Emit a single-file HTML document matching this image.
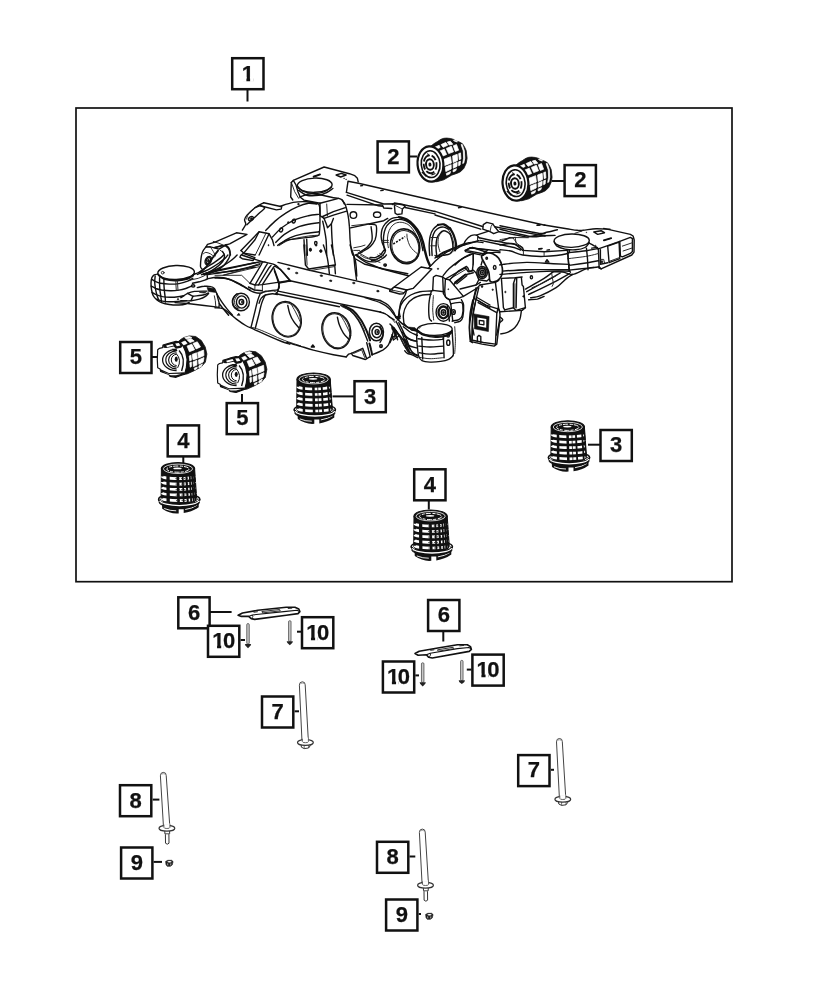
<!DOCTYPE html>
<html lang="en"><head><meta charset="utf-8"><title>Rear crossmember / cradle parts diagram</title>
<style>
html,body{margin:0;padding:0;background:#fff;}
body{width:824px;height:1000px;overflow:hidden;}
svg{display:block;will-change:transform;}
.lb{fill:#fff;stroke:#111;stroke-width:2.5;}
.lt{font-family:"Liberation Sans",sans-serif;font-weight:700;font-size:22px;fill:#111;stroke:#111;stroke-width:0.25;text-anchor:middle;}
.o{fill:none;stroke:#111;stroke-width:1.4;stroke-linejoin:round;stroke-linecap:round;}
.ow{fill:#fff;stroke:#111;stroke-width:1.4;stroke-linejoin:round;stroke-linecap:round;}
.t{fill:none;stroke:#222;stroke-width:0.95;stroke-linejoin:round;stroke-linecap:round;}
.tw{fill:#fff;stroke:#222;stroke-width:0.9;stroke-linejoin:round;}
.g{fill:#fff;stroke:#444;stroke-width:1.0;stroke-linejoin:round;stroke-linecap:round;}
.w{fill:#fff;stroke:none;}
.k{fill:#111;stroke:#111;stroke-width:0.6;stroke-linejoin:round;}
</style></head><body>
<svg width="824" height="1000" viewBox="0 0 824 1000">
<rect width="824" height="1000" fill="#fff"/>
<rect x="76" y="108" width="656" height="473.7" fill="none" stroke="#111" stroke-width="1.7"/>
<line x1="247.5" y1="90.0" x2="247.5" y2="101.5" stroke="#111" stroke-width="2.0"/>
<line x1="410.0" y1="156.5" x2="417.0" y2="156.5" stroke="#111" stroke-width="2.0"/>
<line x1="552.0" y1="181.0" x2="564.0" y2="181.0" stroke="#111" stroke-width="2.0"/>
<line x1="152.0" y1="357.0" x2="158.0" y2="357.0" stroke="#111" stroke-width="2.0"/>
<line x1="242.0" y1="394.0" x2="242.0" y2="403.0" stroke="#111" stroke-width="2.0"/>
<line x1="332.5" y1="396.4" x2="354.0" y2="396.4" stroke="#111" stroke-width="2.0"/>
<line x1="588.0" y1="444.7" x2="601.0" y2="444.7" stroke="#111" stroke-width="2.0"/>
<line x1="183.3" y1="457.0" x2="183.3" y2="464.5" stroke="#111" stroke-width="2.0"/>
<line x1="428.8" y1="501.0" x2="428.8" y2="509.5" stroke="#111" stroke-width="2.0"/>
<line x1="210.0" y1="612.0" x2="231.6" y2="612.0" stroke="#111" stroke-width="2.0"/>
<line x1="240.6" y1="640.0" x2="245.0" y2="640.0" stroke="#111" stroke-width="2.0"/>
<line x1="297.0" y1="631.7" x2="301.0" y2="631.7" stroke="#111" stroke-width="2.0"/>
<line x1="443.3" y1="632.0" x2="443.3" y2="641.5" stroke="#111" stroke-width="2.0"/>
<line x1="415.3" y1="675.4" x2="419.0" y2="675.4" stroke="#111" stroke-width="2.0"/>
<line x1="466.8" y1="669.6" x2="471.5" y2="669.6" stroke="#111" stroke-width="2.0"/>
<line x1="294.6" y1="711.3" x2="299.0" y2="711.3" stroke="#111" stroke-width="2.0"/>
<line x1="550.9" y1="769.8" x2="554.0" y2="769.8" stroke="#111" stroke-width="2.0"/>
<line x1="152.7" y1="799.6" x2="159.4" y2="799.6" stroke="#111" stroke-width="2.0"/>
<line x1="153.6" y1="861.9" x2="162.0" y2="861.9" stroke="#111" stroke-width="2.0"/>
<line x1="409.5" y1="856.5" x2="415.3" y2="856.5" stroke="#111" stroke-width="2.0"/>
<line x1="418.7" y1="914.0" x2="421.0" y2="914.0" stroke="#111" stroke-width="2.0"/>
<g id="cradle">
<path d="M158.6,273.9 L154.2,274.9 L151.8,277.8 L151.0,283.2 L151.6,290.0 L153.3,295.8 L156.7,299.7 L161.5,302.6 L169.3,304.5 L179.0,305.0 L185.8,304.0 L189.2,302.4 L192.6,287.0 L193.1,274.4Z" class="w"/>
<path d="M158.6,273.9 C157.9,274.1 155.4,274.3 154.2,274.9 C153.1,275.6 152.3,276.4 151.8,277.8 C151.3,279.2 151.1,281.1 151.0,283.2 C151.0,285.2 151.2,287.8 151.6,290.0 C152.0,292.1 152.4,294.2 153.3,295.8 C154.1,297.4 155.3,298.5 156.7,299.7 C158.0,300.8 159.4,301.8 161.5,302.6 C163.6,303.4 166.4,304.1 169.3,304.5 C172.2,304.9 176.2,305.1 179.0,305.0 C181.7,304.9 184.1,304.5 185.8,304.0 C187.5,303.6 188.6,302.7 189.2,302.4" class="o"/>
<ellipse cx="176.1" cy="272.5" rx="18.3" ry="7.0" class="ow" transform="rotate(-2 176.1 272.5)"/>
<path d="M158.2,274.4 C159.2,275.1 161.4,277.7 164.4,278.6 C167.4,279.5 172.2,280.1 176.1,280.0 C180.0,280.0 184.7,279.3 187.7,278.3 C190.7,277.3 193.1,274.7 194.1,274.0" class="o"/>
<path d="M158.4,275.2 C159.4,275.9 161.5,278.3 164.4,279.3 C167.4,280.2 172.2,280.8 176.1,280.7 C180.0,280.7 184.8,279.8 187.7,279.0 C190.6,278.1 192.6,276.1 193.5,275.6" class="o"/>
<ellipse cx="162.7" cy="272.7" rx="1.4" ry="1.3" class="t"/>
<path d="M151.8,279.3 C152.4,279.7 154.2,281.1 155.7,281.7 C157.1,282.3 158.3,282.8 160.5,283.2 C162.8,283.6 166.2,284.0 169.3,284.1 C172.3,284.2 175.9,284.1 179.0,283.6 C182.1,283.2 185.4,282.1 187.7,281.2 C190.0,280.3 191.9,278.8 192.8,278.3" class="o"/>
<path d="M151.2,286.1 C152.0,286.5 154.0,287.8 155.7,288.5 C157.4,289.1 159.1,289.6 161.5,290.0 C163.9,290.3 167.3,290.7 170.2,290.7 C173.2,290.8 176.4,290.5 179.0,290.1 C181.6,289.8 183.7,289.2 185.8,288.5 C187.9,287.8 190.6,286.5 191.6,286.1" class="o"/>
<path d="M152.0,292.4 C152.8,292.8 154.9,294.1 156.7,294.8 C158.4,295.5 160.2,296.1 162.5,296.6 C164.7,297.0 167.7,297.2 170.2,297.2 C172.8,297.3 175.7,297.0 178.0,296.7 C180.3,296.5 182.9,295.9 183.8,295.8" class="o"/>
<path d="M156.7,299.2 C157.6,299.5 160.2,300.7 162.5,301.1 C164.7,301.6 167.7,301.7 170.2,301.8 C172.8,301.8 175.3,301.6 178.0,301.4 C180.8,301.2 185.3,300.8 186.7,300.6" class="o"/>
<path d="M155.2,275.9 C155.1,276.9 154.7,280.0 154.7,282.2 C154.8,284.4 155.1,286.7 155.5,289.0 C155.9,291.2 156.6,294.0 157.1,295.8 C157.7,297.6 158.3,299.2 158.6,299.9" class="o"/>
<path d="M159.6,277.8 C159.6,278.9 159.5,281.9 159.6,284.1 C159.6,286.3 159.8,288.7 160.0,290.9 C160.3,293.2 160.8,295.9 161.0,297.7 C161.3,299.6 161.4,301.3 161.5,302.0" class="o"/>
<path d="M163.9,279.3 C163.9,280.1 163.9,282.2 163.9,284.1 C164.0,286.1 164.2,288.7 164.4,290.9 C164.6,293.2 165.0,295.9 165.2,297.7 C165.4,299.6 165.4,301.3 165.4,302.0" class="o"/>
<path d="M175.9,280.4 L175.9,284.1 L176.3,290.4" class="t"/>
<path d="M177.6,280.4 L177.6,284.1 L178.0,290.4" class="t"/>
<ellipse cx="178.0" cy="299.2" rx="0.7" ry="0.7" class="k"/>
<ellipse cx="241.0" cy="302.0" rx="8.4" ry="8.8" class="ow"/>
<path d="M237.0,293.7 C236.4,294.3 234.2,296.0 233.4,297.5 C232.6,298.9 232.2,300.8 232.4,302.4 C232.5,303.9 233.2,305.7 234.1,306.8 C235.0,307.9 237.3,308.7 238.0,309.1" class="o"/>
<path d="M238.8,294.5 C238.2,295.1 236.0,296.7 235.3,298.0 C234.6,299.3 234.4,301.0 234.5,302.4 C234.6,303.8 235.1,305.3 235.8,306.3 C236.6,307.2 238.5,307.8 239.0,308.1" class="t"/>
<ellipse cx="241.7" cy="302.0" rx="5.3" ry="6.1" class="o"/>
<ellipse cx="241.4" cy="302.0" rx="2.3" ry="2.5" class="o"/>
<ellipse cx="242.1" cy="302.0" rx="0.8" ry="1.1" class="k"/>
<path d="M237.0,315.3 L238.8,313.2 L240.1,315.3Z" class="k"/>
<path d="M215.0,278.0 C217.2,278.1 223.9,277.8 228.3,279.0 C232.8,280.2 237.7,282.9 241.7,285.0 C245.7,287.2 249.3,290.4 252.4,291.7 C255.5,293.1 258.2,293.2 260.4,293.2 C262.6,293.1 262.8,291.8 265.7,291.3 C268.6,290.8 275.7,290.2 277.7,290.0" class="o"/>
<path d="M215.0,270.8 L260.4,261.7" class="o"/>
<path d="M215.0,273.2 L235.0,270.8 L259.7,264.6" class="o"/>
<path d="M223.0,275.3 L259.1,266.7" class="t"/>
<path d="M215.0,275.3 L241.7,275.3 L250.0,283.4" class="t"/>
<path d="M250.0,283.3 L261.1,265.0 L262.5,261.9" class="o"/>
<path d="M255.0,285.0 L265.7,266.3 L267.3,263.8" class="o"/>
<path d="M258.4,285.0 L269.1,267.7 L271.1,265.4" class="o"/>
<path d="M262.4,284.6 L273.7,267.0 L275.3,265.7" class="o"/>
<path d="M250.0,283.3 L255.0,285.0 L262.4,284.6 L277.7,282.4 L290.0,280.4" class="o"/>
<path d="M248.4,287.0 L254.4,290.0 L262.4,290.8" class="o"/>
<path d="M255.0,285.0 L254.8,290.2" class="t"/>
<path d="M262.4,284.6 L262.4,291.0" class="t"/>
<path d="M241.7,255.0 C243.7,255.7 250.4,257.9 253.7,259.0 C257.1,260.1 258.3,260.5 261.7,261.4 C265.2,262.3 271.6,263.6 274.4,264.6 C277.2,265.7 276.9,266.2 278.5,267.7 C280.2,269.2 282.4,271.5 284.4,273.7 C286.4,275.8 289.4,279.5 290.4,280.6" class="o"/>
<path d="M274.4,271.0 C275.0,272.6 276.9,277.7 277.7,280.4 C278.6,283.0 279.3,285.4 279.3,287.0 C279.3,288.6 278.0,289.5 277.7,290.0" class="o"/>
<path d="M278.8,282.5 L291.1,281.3" class="t"/>
<path d="M260.4,293.4 C259.9,294.6 258.7,297.0 257.7,300.4 C256.7,303.8 255.5,309.2 254.4,313.7 C253.3,318.2 251.6,325.1 251.0,327.4" class="o"/>
<path d="M265.2,295.0 C264.6,296.4 262.7,299.9 261.7,303.1 C260.7,306.2 260.1,309.6 259.1,313.7 C258.0,317.9 255.9,325.8 255.3,328.2" class="o"/>
<path d="M259.1,303.3 C259.4,302.5 259.9,299.8 261.1,298.4 C262.2,297.0 263.8,295.8 265.7,295.0 C267.6,294.3 270.4,293.8 272.4,293.7 C274.4,293.6 276.6,294.4 277.5,294.5" class="o"/>
<path d="M260.4,293.4 C261.3,293.2 263.5,292.2 265.7,291.8 C268.0,291.4 271.7,290.7 273.7,291.0 C275.8,291.4 277.3,293.3 278.0,293.7" class="t"/>
<path d="M215.0,307.7 C216.3,307.9 220.8,307.9 223.0,308.7 C225.2,309.4 226.1,310.7 228.3,312.4 C230.6,314.1 233.5,316.9 236.4,319.1 C239.3,321.3 242.6,323.7 245.7,325.5 C248.8,327.3 251.3,328.0 255.0,329.8 C258.8,331.5 263.9,333.9 268.4,335.9 C272.8,337.9 278.2,340.1 281.7,341.5 C285.3,342.9 288.4,343.7 289.8,344.2" class="o"/>
<path d="M251.0,327.1 C252.4,327.5 255.7,328.2 259.1,329.5 C262.4,330.7 266.8,332.7 271.1,334.6 C275.3,336.4 279.5,338.6 284.4,340.4 C289.3,342.3 297.8,344.9 300.4,345.8" class="t"/>
<ellipse cx="286.7" cy="319.3" rx="14.4" ry="17.9" class="o" transform="rotate(-14 286.7 319.3)"/>
<ellipse cx="286.7" cy="319.3" rx="13.5" ry="17.0" class="t" transform="rotate(-14 286.7 319.3)"/>
<path d="M287.8,305.5 C288.1,306.8 288.8,311.0 289.8,313.7 C290.8,316.5 292.2,319.4 293.8,321.7 C295.3,324.1 298.0,326.8 298.8,327.8" class="o"/>
<path d="M291.4,304.7 C292.0,305.7 293.9,308.9 295.1,311.1 C296.3,313.2 297.4,315.6 298.4,317.7 C299.4,319.9 300.7,322.7 301.1,323.8" class="t"/>
<path d="M193.9,274.4 C194.8,274.0 197.2,273.1 199.3,272.0 C201.3,270.9 203.6,269.2 206.1,267.6 C208.5,266.1 211.4,264.4 213.8,262.8 C216.3,261.1 219.0,259.2 220.6,257.9 C222.2,256.6 223.1,255.5 223.5,255.0" class="o"/>
<path d="M197.3,274.4 C198.5,273.9 201.7,272.6 204.1,271.5 C206.6,270.4 209.5,269.0 211.9,267.6 C214.3,266.2 216.4,264.9 218.7,263.3 C221.0,261.6 223.9,259.3 225.5,257.9 C227.0,256.5 227.5,255.5 227.9,255.0" class="o"/>
<path d="M203.2,274.4 C204.9,273.8 210.8,271.8 213.8,270.5 C216.9,269.2 219.0,268.1 221.6,266.7 C224.2,265.2 227.1,263.4 229.4,261.8 C231.6,260.2 233.9,258.1 235.2,256.9 C236.5,255.8 236.8,255.3 237.1,255.0" class="o"/>
<path d="M204.1,273.9 L233.3,267.6 L255.0,262.8" class="o"/>
<path d="M208.0,274.6 L255.0,267.1" class="o"/>
<path d="M203.6,274.0 L207.0,273.4 L207.5,278.8 L206.1,279.3" class="o"/>
<path d="M207.5,278.8 C208.9,278.5 213.1,277.5 215.8,277.3 C218.4,277.2 221.0,277.3 223.5,277.8 C226.1,278.3 228.7,279.2 231.3,280.2 C233.9,281.3 236.5,282.8 239.1,284.1 C241.7,285.5 245.0,287.5 246.8,288.5 C248.7,289.5 249.7,289.7 250.2,290.0" class="o"/>
<path d="M192.5,283.3 L199.3,281.8 L206.3,279.7" class="o"/>
<path d="M189.6,280.2 L198.3,278.3 L204.1,275.9" class="t"/>
<ellipse cx="193.1" cy="285.9" rx="1.7" ry="1.1" class="o"/>
<path d="M197.3,287.6 C198.5,287.4 201.9,286.4 204.1,286.3 C206.4,286.1 209.2,286.2 210.9,286.6 C212.6,286.9 213.4,287.5 214.3,288.5 C215.2,289.5 215.8,291.5 216.3,292.4 C216.7,293.3 216.8,293.8 216.9,294.0" class="o"/>
<path d="M207.0,287.5 L213.8,288.6 L215.8,292.4 L208.5,291.5Z" class="k"/>
<path d="M180.8,297.7 C182.0,297.0 185.4,294.4 187.6,293.3 C189.9,292.3 191.2,291.8 194.4,291.4 C197.7,291.0 204.9,291.2 207.0,291.1" class="o"/>
<path d="M187.6,293.3 L193.0,296.3 L191.0,300.6" class="o"/>
<path d="M193.0,296.3 C194.8,296.0 201.6,295.4 204.1,294.8 C206.7,294.2 207.5,293.2 208.2,292.9" class="o"/>
<path d="M199.3,292.3 L206.3,291.9 L204.1,293.1Z" class="k"/>
<path d="M180.8,300.6 C182.5,300.7 187.9,301.1 191.0,300.8 C194.1,300.6 196.9,299.9 199.3,299.2 C201.6,298.5 203.5,297.7 205.1,296.7 C206.7,295.8 208.0,294.0 208.6,293.4" class="o"/>
<path d="M175.0,302.6 L187.6,303.5 L204.1,305.5 L215.8,306.9 L218.9,307.4" class="o"/>
<path d="M216.9,294.0 C217.1,294.6 217.3,296.1 217.7,297.7 C218.1,299.3 219.0,301.9 219.2,303.5 C219.4,305.2 218.9,306.8 218.9,307.4" class="o"/>
<path d="M214.3,295.8 L215.3,300.6 L215.8,306.7" class="t"/>
<path d="M216.9,294.0 C217.7,295.3 219.9,299.0 221.6,301.6 C223.3,304.2 225.6,307.1 227.4,309.4 C229.2,311.6 231.6,314.2 232.5,315.2" class="o"/>
<path d="M219.2,303.5 C220.2,304.9 223.9,309.6 225.5,311.5 C227.1,313.4 228.1,314.6 228.6,315.2" class="o"/>
<path d="M215.0,242.2 L236.4,232.8 L247.0,234.4 L229.7,243.8 L222.3,245.9 L215.0,247.5" class="o"/>
<path d="M242.4,230.1 C242.9,229.2 245.3,226.1 245.7,224.4 C246.1,222.7 244.4,221.3 244.6,219.7 C244.9,218.2 245.3,217.1 247.0,215.1 C248.8,213.1 252.3,209.8 255.0,207.7 C257.8,205.7 262.3,203.6 263.7,202.8" class="o"/>
<path d="M263.7,202.8 L281.7,206.7 L281.2,209.1 L276.4,209.9 L260.4,205.7 L255.0,207.7" class="o"/>
<path d="M260.4,205.7 C261.1,206.1 264.9,206.7 264.7,208.0 C264.4,209.3 261.5,211.0 259.1,213.3 C256.6,215.6 252.0,219.8 250.0,221.7 C247.9,223.6 247.3,224.3 246.8,224.8" class="o"/>
<path d="M255.0,208.0 C254.0,209.0 250.1,212.0 248.6,213.9 C247.2,215.7 246.9,218.2 246.5,219.1" class="t"/>
<ellipse cx="251.0" cy="218.7" rx="2.7" ry="1.9" class="o" transform="rotate(-35 251.0 218.7)"/>
<ellipse cx="251.3" cy="218.7" rx="1.3" ry="0.9" class="k" transform="rotate(-35 251.3 218.7)"/>
<path d="M265.7,230.4 C267.3,228.9 271.7,224.0 275.1,221.1 C278.4,218.2 282.0,215.5 285.8,213.1 C289.5,210.7 294.0,208.3 297.8,206.7 C301.5,205.0 305.3,203.8 308.4,203.3 C311.6,202.9 315.3,203.9 316.7,204.0" class="o"/>
<path d="M272.4,237.1 C274.0,235.5 278.0,230.6 281.7,227.7 C285.5,224.9 290.6,221.7 295.1,219.7 C299.5,217.7 304.5,216.6 308.4,215.7 C312.4,214.8 316.9,214.6 318.6,214.4" class="o"/>
<path d="M275.7,242.4 C277.2,241.1 280.7,237.0 284.4,234.4 C288.1,231.9 293.3,228.9 297.8,227.1 C302.2,225.3 307.6,224.5 311.1,223.7 C314.7,223.0 317.8,222.8 319.1,222.7" class="o"/>
<path d="M277.7,245.4 C279.7,244.1 285.5,239.8 289.8,237.9 C294.0,236.0 298.2,234.9 303.1,233.9 C308.0,232.9 316.5,232.1 319.1,231.7" class="o"/>
<path d="M279.1,245.6 C280.9,244.7 284.9,241.4 289.8,239.8 C294.7,238.2 303.6,236.8 308.4,236.0 C313.3,235.3 317.3,235.4 319.1,235.2" class="t"/>
<ellipse cx="298.4" cy="204.1" rx="0.9" ry="0.7" class="k"/>
<ellipse cx="293.8" cy="221.1" rx="1.5" ry="2.0" class="o" transform="rotate(20 293.8 221.1)"/>
<ellipse cx="288.2" cy="222.5" rx="0.7" ry="0.9" class="k"/>
<ellipse cx="281.1" cy="230.0" rx="1.5" ry="2.0" class="o" transform="rotate(20 281.1 230.0)"/>
<path d="M241.0,250.4 L259.1,231.7 L269.1,233.8 L272.4,239.8 L274.0,245.6" class="o"/>
<path d="M259.1,231.7 L255.0,239.8 L243.7,253.1" class="o"/>
<path d="M269.1,233.8 L259.1,255.0" class="o"/>
<path d="M266.0,233.1 L255.3,255.0" class="t"/>
<path d="M241.0,250.4 L243.7,253.1 L255.0,255.0" class="o"/>
<ellipse cx="268.5" cy="245.2" rx="0.5" ry="0.7" class="k"/>
<path d="M215.0,247.5 C216.3,247.1 220.8,245.2 223.0,245.4 C225.2,245.5 227.1,246.8 228.3,248.4 C229.6,250.0 230.1,253.9 230.5,255.0" class="o"/>
<path d="M220.3,250.4 C220.8,250.8 222.6,251.7 223.3,252.4 C224.0,253.2 224.4,254.6 224.6,255.0" class="t"/>
<path d="M346.4,192.4 L348.0,181.3 L358.4,183.2 L435.0,200.8" class="o"/>
<path d="M346.4,192.4 L383.7,204.0 L397.1,203.7 L403.8,205.0" class="o"/>
<path d="M347.0,195.2 L378.4,205.8 L382.7,206.4" class="o"/>
<path d="M405.1,207.5 L435.0,213.9" class="o"/>
<path d="M360.8,185.8 L362.6,185.6" class="o"/>
<path d="M380.8,190.6 L383.2,190.2" class="o"/>
<path d="M392.4,204.5 L394.4,203.0 L403.1,204.5 L405.1,206.4 L402.4,209.1 L401.9,213.9 L397.1,214.5 L395.1,213.1 L394.4,205.0" class="o"/>
<path d="M394.4,205.0 L402.4,209.1" class="t"/>
<path d="M347.0,204.4 L382.4,205.0 L383.7,208.0 L391.7,208.5" class="o"/>
<path d="M350.6,227.9 L383.7,220.7 L387.7,218.4" class="o"/>
<path d="M351.7,225.7 L369.1,223.7" class="t"/>
<ellipse cx="353.4" cy="215.1" rx="3.3" ry="3.3" class="o"/>
<ellipse cx="377.1" cy="214.7" rx="3.6" ry="2.7" class="o"/>
<path d="M369.1,224.4 C370.2,224.5 374.5,223.8 375.7,225.1 C377.0,226.3 376.6,229.3 376.5,231.7 C376.4,234.2 376.1,237.3 375.1,239.8 C374.0,242.2 372.5,244.4 370.4,246.4 C368.3,248.4 364.8,250.3 362.4,251.8 C359.9,253.2 356.8,254.4 355.7,255.0" class="o"/>
<path d="M371.1,226.7 C371.2,228.9 372.8,236.2 372.0,239.8 C371.2,243.3 368.4,245.7 366.4,247.8 C364.3,249.8 360.8,251.3 359.7,252.0" class="o"/>
<path d="M353.7,247.8 L361.0,246.4 L365.0,245.1" class="t"/>
<path d="M353.7,250.4 L359.7,250.4" class="t"/>
<path d="M435.0,200.8 L545.0,225.2" class="o"/>
<path d="M435.0,211.3 L482.5,226.5" class="o"/>
<path d="M435.0,215.0 L480.7,229.2" class="o"/>
<path d="M458.5,207.7 L461.2,207.3" class="o"/>
<path d="M537.3,225.3 L539.9,224.9" class="o"/>
<path d="M539.1,248.8 L542.1,248.4" class="o"/>
<path d="M482.8,229.1 L483.3,224.7 L486.8,222.4 L492.7,223.9 L494.8,226.8 L498.8,231.7 L493.7,233.7 L490.0,231.7Z" class="o"/>
<path d="M490.0,231.7 L491.1,226.4 L492.7,223.9" class="t"/>
<path d="M494.8,226.8 L545.0,236.1" class="o"/>
<path d="M499.1,231.7 L527.1,237.1 L545.0,233.5" class="o"/>
<path d="M509.8,237.5 L528.4,237.7" class="t"/>
<path d="M479.1,237.7 C481.7,238.3 489.1,240.0 495.1,241.1 C501.1,242.2 510.6,243.4 515.1,244.4 C519.5,245.4 520.4,246.2 521.8,247.1 C523.2,248.0 523.1,249.5 523.4,250.0" class="o"/>
<path d="M480.4,240.4 L496.4,243.8 L515.1,247.8 L520.7,250.0" class="o"/>
<path d="M515.1,237.2 L516.4,244.7" class="t"/>
<path d="M509.8,237.7 L501.7,241.1 L495.1,241.1" class="o"/>
<path d="M455.0,249.8 C456.1,249.1 459.5,246.8 461.7,245.8 C463.9,244.8 465.5,244.6 468.4,243.8 C471.3,242.9 477.3,241.0 479.1,240.4" class="o"/>
<path d="M479.1,237.7 C478.6,237.3 477.7,235.4 476.4,235.1 C475.0,234.7 472.8,234.9 471.0,235.7 C469.3,236.6 466.9,238.9 465.7,240.4 C464.5,241.9 464.0,244.0 463.7,244.7" class="o"/>
<path d="M476.4,235.1 L488.7,231.1" class="o"/>
<path d="M477.5,236.7 L477.5,241.5" class="t"/>
<path d="M470.0,247.8 C473.0,248.1 483.4,249.2 488.4,249.8 C493.4,250.3 498.1,250.9 500.0,251.1" class="o"/>
<path d="M483.1,253.8 C485.1,253.5 492.2,252.6 495.1,252.4 C497.9,252.2 499.2,252.5 500.0,252.6" class="o"/>
<path d="M465.7,250.4 L470.0,247.8 L487.7,250.0 L483.1,253.8Z" class="o"/>
<path d="M483.1,253.8 L482.4,260.4 L481.1,265.0" class="o"/>
<path d="M473.0,252.4 L473.0,265.0" class="t"/>
<ellipse cx="486.4" cy="258.6" rx="1.6" ry="1.9" class="o"/>
<ellipse cx="486.4" cy="258.6" rx="0.7" ry="0.9" class="k"/>
<path d="M488.4,255.1 C489.5,255.6 493.1,256.4 495.1,258.0 C497.1,259.7 499.5,263.8 500.4,265.0" class="o"/>
<path d="M435.0,258.0 C436.3,257.1 439.7,254.1 443.0,252.4 C446.3,250.7 451.2,249.1 455.0,247.8 C458.9,246.4 464.1,245.0 466.0,244.4" class="o"/>
<path d="M455.0,265.0 C456.1,264.0 459.2,260.7 461.7,259.1 C464.2,257.5 468.6,255.8 470.0,255.1" class="o"/>
<path d="M603.7,228.4 L630.4,234.4 L633.1,236.0 L634.2,240.0 L634.0,252.1 L631.8,255.0 L601.1,268.9 L598.7,267.8" class="o"/>
<path d="M619.8,241.4 L630.4,237.4 L632.4,238.7 L632.4,251.4 L630.4,253.4 L622.4,256.9 L620.4,256.1 L619.8,241.4" class="o"/>
<path d="M622.4,246.1 L632.4,242.7" class="t"/>
<path d="M623.1,251.0 L631.8,248.1" class="t"/>
<path d="M591.7,248.1 L597.1,247.4 L598.4,248.9 L619.8,241.4" class="o"/>
<path d="M598.4,248.9 L599.1,266.7 L601.1,268.9" class="o"/>
<path d="M607.7,246.1 L619.1,242.1 L619.8,258.7 L609.1,262.7Z" class="o"/>
<path d="M609.1,261.4 L619.1,257.7" class="t"/>
<path d="M600.4,249.7 L600.4,264.3 L607.7,262.7" class="o"/>
<path d="M600.4,259.4 L603.7,259.4 L604.5,262.7" class="t"/>
<ellipse cx="601.9" cy="261.8" rx="0.9" ry="1.2" class="k"/>
<ellipse cx="571.7" cy="240.7" rx="17.6" ry="6.7" class="ow" transform="rotate(-1 571.7 240.7)"/>
<path d="M554.1,241.7 C554.6,242.4 555.2,244.9 557.0,246.2 C558.8,247.4 561.9,248.5 565.0,249.1 C568.1,249.7 572.4,250.1 575.7,249.8 C579.0,249.5 582.8,248.7 585.0,247.5 C587.3,246.3 588.6,243.5 589.3,242.7" class="o"/>
<ellipse cx="586.4" cy="232.4" rx="0.4" ry="0.3" class="k"/>
<ellipse cx="581.0" cy="231.1" rx="0.4" ry="0.3" class="k"/>
<ellipse cx="595.7" cy="245.4" rx="0.4" ry="0.3" class="k"/>
<ellipse cx="614.4" cy="243.4" rx="0.4" ry="0.3" class="k"/>
<path d="M593.7,232.0 L601.1,230.7 L604.5,232.7 L597.7,234.4Z" class="o"/>
<path d="M603.7,240.2 L611.2,238.0" class="o"/>
<path d="M604.0,240.6 L611.3,238.4" class="o"/>
<path d="M567.7,249.7 C567.8,251.4 568.1,256.8 568.4,260.1 C568.6,263.4 568.7,267.4 569.0,269.4 C569.4,271.4 570.1,271.8 570.4,272.2" class="o"/>
<path d="M586.4,248.1 C586.6,249.8 587.2,255.1 587.5,258.7 C587.7,262.3 587.9,267.9 588.0,269.7" class="o"/>
<path d="M567.7,252.7 C570.8,252.4 581.5,251.4 586.4,250.7 C591.3,250.1 595.3,249.1 597.1,248.7" class="o"/>
<path d="M567.7,258.7 C571.0,258.3 582.6,257.0 587.7,256.1 C592.9,255.2 596.8,253.8 598.7,253.4" class="t"/>
<path d="M569.0,265.4 C572.1,265.0 582.8,263.5 587.7,262.7 C592.7,262.0 596.8,261.1 598.7,260.7" class="o"/>
<path d="M569.0,270.1 C572.1,269.8 582.7,268.6 587.7,268.1 C592.7,267.5 597.1,267.0 598.9,266.7" class="o"/>
<path d="M589.1,243.0 C590.2,243.6 594.3,245.7 595.7,246.7 C597.2,247.7 597.5,248.5 597.9,248.9" class="o"/>
<path d="M278.0,262.4 L307.4,269.7 L336.7,276.4 L380.0,286.4 L392.4,290.0" class="o"/>
<path d="M290.0,280.8 L380.0,300.5" class="o"/>
<path d="M278.0,291.1 L380.0,312.0" class="o"/>
<path d="M276.0,293.7 L339.4,306.7" class="o"/>
<path d="M275.3,266.4 L280.7,269.7 L290.0,280.8" class="o"/>
<path d="M274.0,268.4 L279.3,283.0 L278.0,291.1 L276.0,293.7" class="o"/>
<path d="M279.3,283.0 L290.0,280.8" class="o"/>
<ellipse cx="288.7" cy="268.8" rx="1.3" ry="0.8" class="k" transform="rotate(8 288.7 268.8)"/>
<ellipse cx="296.7" cy="273.0" rx="1.3" ry="0.8" class="k" transform="rotate(8 296.7 273.0)"/>
<ellipse cx="321.4" cy="275.7" rx="1.3" ry="0.8" class="k" transform="rotate(8 321.4 275.7)"/>
<ellipse cx="330.7" cy="280.8" rx="1.3" ry="0.8" class="k" transform="rotate(8 330.7 280.8)"/>
<ellipse cx="353.8" cy="283.0" rx="1.3" ry="0.8" class="k" transform="rotate(8 353.8 283.0)"/>
<ellipse cx="377.9" cy="291.1" rx="1.3" ry="0.8" class="k" transform="rotate(8 377.9 291.1)"/>
<path d="M304.0,245.0 L305.4,265.0 L308.7,269.0 L334.7,265.0 L335.4,273.8" class="o"/>
<path d="M310.0,270.6 L334.3,266.6" class="t"/>
<path d="M306.0,245.0 L307.1,265.0" class="t"/>
<ellipse cx="310.4" cy="250.1" rx="1.1" ry="1.3" class="k"/>
<ellipse cx="321.0" cy="251.0" rx="1.1" ry="1.3" class="k"/>
<ellipse cx="316.1" cy="245.3" rx="0.9" ry="0.9" class="k"/>
<path d="M323.4,245.0 C324.1,247.2 326.4,253.5 327.4,258.3 C328.4,263.2 329.1,271.3 329.4,273.8" class="o"/>
<path d="M331.4,245.0 C331.8,246.8 333.1,252.3 333.8,255.7 C334.5,259.0 335.1,263.5 335.4,265.0" class="o"/>
<path d="M350.1,245.0 C351.0,247.7 354.3,255.9 355.4,261.0 C356.5,266.2 356.5,273.5 356.8,276.0" class="o"/>
<path d="M355.4,255.0 C357.2,256.2 362.0,260.2 366.1,262.4 C370.2,264.5 377.7,267.0 380.0,268.0" class="o"/>
<path d="M358.1,252.3 C359.9,253.3 365.1,256.7 368.8,258.3 C372.4,260.0 378.1,261.7 380.0,262.4" class="t"/>
<ellipse cx="336.3" cy="330.7" rx="14.2" ry="18.2" class="o" transform="rotate(-14 336.3 330.7)"/>
<ellipse cx="336.3" cy="330.7" rx="13.2" ry="17.2" class="t" transform="rotate(-14 336.3 330.7)"/>
<path d="M337.4,317.1 C337.7,318.4 338.4,322.4 339.4,325.1 C340.4,327.8 341.9,330.8 343.4,333.1 C344.9,335.4 347.6,338.0 348.5,339.0" class="o"/>
<path d="M341.0,316.0 C341.6,317.1 343.6,320.2 344.8,322.4 C345.9,324.6 347.1,327.0 348.1,329.1 C349.1,331.2 350.3,334.2 350.8,335.2" class="t"/>
<path d="M340.8,305.3 C342.3,306.2 347.2,308.0 350.1,310.4 C353.0,312.8 355.9,316.4 358.1,319.8 C360.3,323.1 361.8,326.9 363.4,330.4 C365.0,334.0 367.0,339.3 367.7,341.1" class="o"/>
<path d="M343.2,305.3 C344.8,306.2 349.8,308.0 352.8,310.4 C355.7,312.8 358.5,316.4 360.8,319.8 C363.0,323.1 364.8,327.0 366.4,330.4 C367.9,333.9 369.5,338.8 370.1,340.4" fill="none" stroke="#111" stroke-width="2.0" stroke-linecap="round"/>
<path d="M342.1,306.7 C343.6,307.5 348.6,309.5 351.4,311.7 C354.3,314.0 357.0,317.2 359.2,320.4 C361.4,323.7 363.6,329.3 364.5,331.1" class="t"/>
<path d="M365.0,297.7 C367.7,298.6 377.1,301.3 381.1,303.1 C385.1,304.8 386.9,306.4 389.1,308.4 C391.3,310.4 392.9,313.5 394.4,315.1 C395.9,316.7 397.5,317.5 398.2,318.0" class="o"/>
<ellipse cx="376.4" cy="332.0" rx="7.1" ry="8.8" class="ow"/>
<path d="M372.0,324.7 C371.6,325.3 370.3,326.9 369.9,328.4 C369.5,329.9 369.3,332.2 369.6,333.8 C369.9,335.4 370.7,337.0 371.5,338.0 C372.3,339.1 373.9,339.8 374.4,340.2" class="t"/>
<ellipse cx="376.8" cy="332.0" rx="4.8" ry="5.7" class="o"/>
<ellipse cx="377.1" cy="332.0" rx="2.0" ry="2.4" class="o"/>
<ellipse cx="377.5" cy="332.0" rx="0.8" ry="1.1" class="k"/>
<path d="M389.7,290.4 L394.4,287.0 L406.7,290.0 L403.1,293.7 L399.8,294.0 L389.7,291.3Z" class="o"/>
<path d="M391.7,290.0 L403.8,292.6" class="t"/>
<path d="M393.1,287.8 L421.1,267.0 L431.8,269.0 L413.1,288.4 L406.7,290.0" class="o"/>
<path d="M353.7,255.0 C353.9,257.2 354.6,264.2 355.0,268.3 C355.5,272.5 356.3,277.9 356.5,279.8" class="o"/>
<path d="M355.7,259.0 L365.0,264.3 L383.7,269.0 L407.8,273.7" class="o"/>
<path d="M357.0,255.0 C358.4,255.9 361.9,259.2 365.0,260.3 C368.2,261.5 372.6,262.1 375.7,261.7 C378.8,261.2 382.0,258.8 383.7,257.7 C385.5,256.6 386.0,255.4 386.4,255.0" class="o"/>
<path d="M360.4,255.0 C361.4,255.6 363.8,257.6 366.4,258.3 C368.9,259.0 373.2,259.6 375.7,259.3 C378.3,258.9 380.7,256.8 381.7,256.3" class="t"/>
<path d="M394.4,255.0 C395.3,255.9 397.5,259.1 399.8,260.3 C402.0,261.6 405.1,262.6 407.8,262.3 C410.4,262.1 414.0,260.2 415.8,259.0 C417.6,257.8 418.0,255.7 418.4,255.0" class="o"/>
<ellipse cx="385.1" cy="265.1" rx="1.3" ry="1.1" class="o"/>
<ellipse cx="385.3" cy="265.4" rx="0.5" ry="0.5" class="k"/>
<path d="M406.7,290.0 C406.4,290.8 406.0,293.1 405.1,295.0 C404.2,297.0 402.0,299.5 401.1,301.7 C400.2,303.9 400.2,305.7 399.8,308.4 C399.3,311.1 398.4,316.4 398.2,318.0" class="o"/>
<path d="M380.0,268.3 L394.7,272.3 L408.3,275.7" class="o"/>
<path d="M380.0,300.4 C381.3,301.2 385.8,303.2 388.0,305.0 C390.2,306.9 392.0,309.6 393.3,311.7 C394.7,313.8 395.1,316.6 396.0,317.7 C396.9,318.8 398.0,318.6 398.7,318.4 C399.4,318.2 399.8,316.7 400.0,316.4" class="o"/>
<path d="M380.0,311.7 C380.9,312.1 383.4,312.6 385.3,313.7 C387.2,314.8 389.7,316.9 391.3,318.4 C392.9,319.9 394.4,322.0 395.0,322.7" class="t"/>
<path d="M400.0,316.4 C399.9,315.2 398.8,311.6 399.4,309.1 C399.9,306.5 401.5,303.4 403.4,301.0 C405.3,298.7 407.9,296.6 410.7,295.0 C413.5,293.5 416.7,292.4 420.0,291.7 C423.4,291.0 428.5,291.3 430.7,291.0 C433.0,290.8 433.0,290.5 433.4,290.4" class="o"/>
<path d="M404.0,323.7 C403.9,322.2 402.9,317.5 403.4,314.4 C403.8,311.3 405.0,307.7 406.7,305.0 C408.4,302.4 410.7,300.0 413.4,298.4 C416.0,296.7 419.8,295.7 422.7,295.0 C425.7,294.4 429.6,294.5 431.0,294.4" class="o"/>
<path d="M404.0,323.7 C404.7,324.4 406.7,326.9 408.0,327.7 C409.4,328.6 411.4,328.9 412.0,329.1" class="o"/>
<path d="M432.7,290.4 L433.4,277.0 L436.1,275.4 L442.7,277.0 L445.4,279.0 L444.7,291.7 L445.4,297.0 L449.4,299.7 L460.1,297.7 L463.4,296.4 L449.4,279.7 L445.4,279.0" class="o"/>
<path d="M442.7,277.0 L443.4,293.7 L446.7,298.4 L449.4,299.7" class="o"/>
<path d="M432.7,290.4 L444.1,291.7" class="o"/>
<path d="M431.4,291.0 C431.1,292.5 429.8,296.7 429.4,299.7 C428.9,302.7 428.7,305.9 428.7,309.1 C428.7,312.2 428.9,316.4 429.4,318.4 C429.9,320.4 431.2,320.6 431.5,321.1" class="o"/>
<path d="M433.4,295.7 C433.3,297.9 432.7,305.0 432.7,309.1 C432.8,313.1 433.5,318.2 433.7,320.0" class="t"/>
<ellipse cx="448.3" cy="289.2" rx="0.5" ry="0.5" class="k"/>
<path d="M449.4,299.7 L450.8,304.0" class="o"/>
<ellipse cx="443.4" cy="312.4" rx="7.3" ry="8.8" class="ow"/>
<ellipse cx="443.4" cy="312.4" rx="4.9" ry="5.9" fill="none" stroke="#111" stroke-width="2.3"/>
<ellipse cx="443.5" cy="312.5" rx="2.3" ry="2.7" class="o"/>
<ellipse cx="443.5" cy="312.5" rx="1.1" ry="1.3" class="k"/>
<path d="M447.4,305.0 L449.4,321.1" class="o"/>
<path d="M450.8,304.0 L452.8,321.1" class="o"/>
<ellipse cx="453.4" cy="312.0" rx="1.9" ry="2.4" class="o"/>
<ellipse cx="453.6" cy="312.0" rx="0.8" ry="1.1" class="k"/>
<path d="M450.8,303.7 C452.3,303.5 458.1,302.2 460.1,302.4 C462.1,302.6 462.4,302.8 462.8,305.0 C463.1,307.3 462.9,313.3 462.2,315.7 C461.6,318.2 460.5,318.8 458.8,319.7 C457.1,320.6 453.2,320.8 452.1,321.1" class="o"/>
<path d="M461.4,299.7 C461.8,300.6 463.3,302.2 463.6,305.0 C463.8,307.9 463.3,314.4 462.8,317.1 C462.2,319.7 461.4,320.1 460.1,321.1 C458.8,322.0 455.6,322.4 454.8,322.7" class="o"/>
<path d="M400.0,316.4 C399.6,316.7 396.7,317.0 397.4,318.4 C398.0,319.8 401.6,323.3 404.0,325.1 C406.5,326.9 409.8,328.1 412.0,329.1 C414.3,330.0 416.5,330.4 417.4,330.7" class="o"/>
<path d="M392.0,327.7 L394.7,331.7 L397.6,339.8" class="o"/>
<path d="M393.3,327.7 L398.7,334.4 L404.0,345.1 L408.3,352.0" class="o"/>
<path d="M408.7,327.1 L415.0,327.7 L417.4,331.7 L410.7,329.9Z" class="k"/>
<path d="M404.0,335.8 C405.1,336.4 408.4,338.8 410.7,339.8 C413.0,340.7 416.5,341.1 417.6,341.4" class="o"/>
<path d="M405.4,339.8 C406.0,341.1 408.0,345.5 409.4,347.8 C410.7,350.0 412.0,351.9 413.4,353.1 C414.8,354.4 416.9,354.9 417.6,355.2" class="o"/>
<path d="M400.0,337.1 C400.7,338.4 402.6,342.4 404.0,345.1 C405.5,347.8 407.9,351.8 408.7,353.1" class="t"/>
<path d="M380.0,326.4 C380.4,327.3 382.2,330.0 382.7,331.7 C383.1,333.5 383.1,335.3 382.7,337.1 C382.2,338.9 380.4,341.5 380.0,342.4" class="o"/>
<path d="M476.1,287.7 C475.7,289.7 474.3,295.0 473.4,299.7 C472.6,304.4 471.4,311.1 470.8,315.7 C470.1,320.4 469.4,323.7 469.4,327.7 C469.4,331.7 470.3,337.3 470.8,339.8 C471.3,342.2 472.1,342.2 472.4,342.7" class="o"/>
<path d="M478.8,287.7 C478.2,290.1 476.5,297.3 475.4,302.4 C474.4,307.5 473.3,312.2 472.8,318.4 C472.2,324.6 472.2,336.2 472.1,339.8" class="o"/>
<path d="M460.1,289.0 L476.1,285.0 L480.4,282.4" class="o"/>
<path d="M463.4,296.4 L476.4,288.5" class="o"/>
<path d="M445.4,279.0 L465.4,267.7 L468.1,271.7 L473.4,270.3 L476.1,273.0 L478.8,279.7 L476.1,285.0" class="o"/>
<path d="M454.8,282.4 L465.4,274.3" class="o"/>
<path d="M456.8,283.7 L466.8,275.7" class="o"/>
<path d="M450.8,278.3 L466.1,269.3" class="t"/>
<ellipse cx="482.1" cy="272.5" rx="5.3" ry="6.1" class="ow"/>
<ellipse cx="482.1" cy="272.5" rx="3.7" ry="4.4" fill="none" stroke="#111" stroke-width="2.1"/>
<ellipse cx="482.3" cy="272.6" rx="1.9" ry="2.3" class="o"/>
<ellipse cx="482.3" cy="272.6" rx="0.8" ry="1.1" class="k"/>
<path d="M478.8,279.7 L486.8,281.0 L490.0,278.3" class="o"/>
<path d="M476.1,297.0 L490.0,305.0" class="o"/>
<path d="M478.8,301.0 L490.0,308.0" class="o"/>
<ellipse cx="482.1" cy="286.4" rx="0.7" ry="0.8" class="k"/>
<path d="M482.0,255.7 C482.9,254.8 485.6,253.3 487.4,253.0 C489.1,252.7 490.8,252.8 492.7,253.7 C494.6,254.6 497.1,256.2 498.7,258.3 C500.3,260.5 501.5,263.7 502.0,266.4 C502.6,269.0 502.6,272.1 502.0,274.4 C501.5,276.6 499.9,278.5 498.7,279.7 C497.5,280.9 496.1,281.5 494.7,281.7 C493.3,281.9 491.0,282.7 490.0,281.0 C489.0,279.4 489.6,274.6 488.7,271.7 C487.8,268.8 485.8,265.9 484.7,263.7 C483.6,261.5 482.5,259.7 482.0,258.3 C481.6,257.0 481.1,256.6 482.0,255.7Z" fill="#fff" stroke="#111" stroke-width="1.7"/>
<ellipse cx="486.7" cy="258.3" rx="0.8" ry="1.1" class="o"/>
<ellipse cx="494.7" cy="267.4" rx="1.3" ry="1.9" class="o"/>
<path d="M480.0,285.0 L495.4,282.4 L498.7,280.4" class="o"/>
<path d="M480.0,285.0 C479.5,285.7 477.7,286.8 476.7,289.1 C475.7,291.3 474.8,295.1 474.0,298.4 C473.2,301.7 472.7,305.5 472.0,309.1 C471.3,312.6 470.3,318.0 470.0,319.8" class="o"/>
<path d="M495.4,282.4 L498.7,309.1 L500.0,311.7" class="o"/>
<path d="M501.4,278.4 L503.4,307.7 L504.7,309.9" class="o"/>
<path d="M501.4,278.4 L515.4,277.7 L522.1,277.0" class="o"/>
<path d="M515.4,277.7 L513.4,283.7 L513.4,307.7 L504.7,309.9" class="o"/>
<path d="M516.7,278.4 L516.1,307.7" class="o"/>
<path d="M521.4,277.7 L522.1,285.0 L523.4,286.4 L525.4,307.7 L516.1,310.4 L513.4,307.7" class="o"/>
<path d="M514.9,283.7 L514.9,307.7" class="t"/>
<ellipse cx="482.0" cy="286.7" rx="0.7" ry="0.8" class="k"/>
<ellipse cx="492.7" cy="289.7" rx="0.7" ry="0.8" class="k"/>
<ellipse cx="505.4" cy="292.0" rx="0.7" ry="0.8" class="k"/>
<ellipse cx="523.4" cy="296.4" rx="0.7" ry="0.8" class="k"/>
<ellipse cx="531.4" cy="277.3" rx="1.1" ry="1.6" class="o"/>
<path d="M474.0,298.4 L486.0,305.1 L498.7,309.1" class="o"/>
<path d="M498.7,309.1 C498.9,310.0 500.0,311.7 500.0,314.4 C500.0,317.1 499.3,321.7 498.7,325.1 C498.1,328.5 497.0,333.3 496.7,335.0" class="o"/>
<path d="M500.0,311.7 L522.1,310.4 L525.4,307.7" class="o"/>
<path d="M521.4,310.7 C521.1,312.2 520.8,316.9 519.7,319.8 C518.5,322.6 516.8,325.7 514.7,327.8 C512.7,329.9 509.7,331.4 507.4,332.4 C505.0,333.5 501.8,333.7 500.7,333.9" class="o"/>
<path d="M500.0,317.1 C500.5,317.5 502.8,318.9 502.8,319.8 C502.8,320.6 500.5,322.0 500.0,322.4" class="o"/>
<path d="M474.0,313.9 L489.1,316.6 L488.4,331.5 L474.4,328.8Z" class="k"/>
<path d="M477.3,317.6 L486.3,319.0 L486.2,327.8 L477.5,325.9Z" fill="#fff"/>
<path d="M479.3,320.3 L483.9,321.0 L483.9,324.8 L479.3,324.2Z" fill="#fff" stroke="#111" stroke-width="1.3" stroke-linejoin="round"/>
<path d="M472.7,327.8 L474.0,335.0" class="o"/>
<path d="M500.0,229.3 C502.7,229.9 510.7,232.0 516.0,233.3 C521.4,234.5 527.4,236.3 532.0,236.7 C536.7,237.1 540.2,235.9 544.1,235.7 C547.9,235.5 553.2,235.5 555.0,235.4" class="o"/>
<path d="M500.0,225.7 C503.3,226.3 513.6,228.4 520.0,229.7 C526.5,230.9 534.3,232.8 538.7,233.3 C543.2,233.7 543.6,232.9 546.7,232.3 C549.8,231.7 555.6,230.1 557.4,229.7" class="o"/>
<path d="M544.1,225.0 C547.8,225.6 561.2,227.8 566.7,228.7 C572.3,229.6 574.8,230.1 577.4,230.3 C580.1,230.6 579.7,230.6 582.8,230.3 C585.9,230.1 591.6,228.9 596.1,228.7 C600.7,228.6 607.7,229.2 610.0,229.3" class="o"/>
<path d="M574.8,233.3 L582.8,230.6" class="t"/>
<path d="M500.0,249.7 C501.8,249.9 506.9,250.1 510.7,251.0 C514.5,251.9 517.1,254.1 522.7,255.0 C528.3,255.9 536.7,256.6 544.1,256.4 C551.4,256.1 562.5,254.7 566.7,253.7 C571.0,252.7 569.0,250.9 569.4,250.4" class="o"/>
<path d="M500.0,265.0 C500.4,264.9 498.2,264.8 502.7,264.4 C507.1,263.9 518.2,262.5 526.7,262.4 C535.2,262.3 546.3,263.4 553.4,263.7 C560.5,264.0 566.7,264.3 569.4,264.4" class="o"/>
<path d="M502.7,271.1 C506.7,270.8 518.7,269.9 526.7,269.7 C534.7,269.5 543.6,269.7 550.7,269.7 C557.8,269.7 566.3,269.7 569.4,269.7" class="o"/>
<path d="M500.0,274.4 C504.4,274.1 517.8,272.9 526.7,272.4 C535.6,271.8 546.3,271.3 553.4,271.1 C560.5,270.9 566.7,271.2 569.4,271.2" class="o"/>
<path d="M522.7,250.4 L544.1,251.7 L566.7,250.4" class="o"/>
<path d="M523.4,250.4 L523.4,255.0" class="t"/>
<path d="M544.1,251.7 L544.1,256.4" class="t"/>
<path d="M500.0,245.0 C502.2,244.8 509.6,242.8 513.3,243.7 C517.1,244.6 521.1,249.3 522.7,250.4" class="o"/>
<path d="M513.3,238.3 C514.0,239.2 516.0,242.3 517.4,243.7 C518.7,245.1 520.9,246.1 521.6,246.6" class="t"/>
<path d="M500.0,239.7 C501.3,239.5 505.8,238.6 508.0,238.3 C510.2,238.1 512.5,238.3 513.3,238.3" class="t"/>
<path d="M545.4,262.1 L547.0,259.7 L548.9,262.1Z" class="o"/>
<path d="M538.7,249.0 L541.7,248.8" class="o"/>
<path d="M547.0,250.1 L549.4,249.8" class="o"/>
<path d="M537.1,225.3 L540.0,225.0" class="o"/>
<path d="M567.4,250.4 C567.6,252.8 568.4,261.6 568.8,265.0 C569.1,268.5 569.5,270.1 569.7,271.1" class="o"/>
<path d="M525.4,289.1 C528.5,287.3 539.4,281.3 544.1,278.4 C548.7,275.5 551.8,272.8 553.4,271.7" class="o"/>
<path d="M526.7,291.7 C530.7,289.5 545.2,281.5 550.7,278.4 C556.3,275.3 558.5,273.9 560.1,273.1" class="o"/>
<path d="M528.7,294.4 C530.6,293.5 535.5,291.3 540.0,289.1 C544.6,286.9 551.2,283.6 556.1,281.1 C561.0,278.5 567.2,274.9 569.4,273.7" class="o"/>
<path d="M530.7,297.8 C532.3,297.4 535.8,297.4 540.0,295.8 C544.3,294.1 551.6,290.6 556.1,287.7 C560.5,284.9 564.0,280.6 566.7,278.4 C569.5,276.2 571.8,275.1 572.8,274.4" class="o"/>
<path d="M528.7,299.8 C530.1,299.6 534.8,299.6 537.4,299.1 C539.9,298.5 542.9,296.9 544.1,296.4" class="o"/>
<path d="M551.4,271.7 L553.4,283.7 L552.1,286.4" class="t"/>
<path d="M532.0,287.7 C534.0,286.9 540.0,284.4 544.1,282.4 C548.1,280.4 554.1,276.8 556.1,275.7" class="t"/>
<path d="M553.4,271.7 C555.0,271.8 559.5,271.5 562.7,272.0 C566.0,272.4 569.0,274.9 572.8,274.4 C576.5,273.9 582.0,270.2 585.4,269.1 C588.9,267.9 592.1,267.7 593.4,267.5" class="o"/>
<path d="M300.0,346.1 C302.2,346.7 307.8,348.6 313.3,350.1 C318.9,351.5 327.9,353.6 333.4,354.7 C338.8,355.9 343.9,356.5 346.1,356.9" class="o"/>
<path d="M346.1,356.9 L348.7,354.1 L351.4,353.4" class="o"/>
<path d="M351.4,353.4 L362.7,348.3 L366.7,358.7" class="o"/>
<path d="M353.7,353.4 L361.7,349.9 L364.6,357.4" class="t"/>
<path d="M351.4,353.4 L352.7,355.5 L365.4,359.5 L369.7,356.9" class="o"/>
<path d="M366.7,342.7 C367.2,344.5 368.8,351.0 369.4,353.4 C370.0,355.8 370.1,356.3 370.2,356.9" class="o"/>
<path d="M369.4,343.4 C369.7,344.4 370.6,347.5 371.0,349.4 C371.5,351.3 371.9,353.8 372.1,354.7" fill="none" stroke="#111" stroke-width="2.0" stroke-linecap="round"/>
<path d="M372.1,354.7 C373.9,354.0 380.1,351.6 382.8,350.1 C385.4,348.5 386.8,347.3 388.1,345.4 C389.4,343.5 389.9,341.2 390.8,338.7 C391.7,336.3 393.2,332.7 393.4,330.7 C393.7,328.7 392.3,327.4 392.1,326.7" class="o"/>
<path d="M311.3,347.0 L312.8,344.9 L314.4,347.0Z" class="o"/>
<ellipse cx="381.0" cy="346.1" rx="1.3" ry="1.5" class="o"/>
<ellipse cx="381.0" cy="346.1" rx="0.5" ry="0.7" class="k"/>
<path d="M396.1,321.4 C397.0,323.1 399.7,328.0 401.5,332.0 C403.2,336.0 405.4,341.8 406.8,345.4 C408.2,348.9 409.5,352.1 410.0,353.4" class="o"/>
<path d="M398.8,322.7 C399.7,324.5 402.5,329.6 404.1,333.4 C405.8,337.2 407.8,342.7 408.8,345.4 C409.8,348.1 410.0,348.9 410.3,349.7" class="o"/>
<path d="M392.1,326.7 L396.1,330.7 L398.8,336.0 L393.4,340.0 L392.1,334.7" class="o"/>
<path d="M393.4,328.7 L396.8,333.4 L394.8,338.0Z" class="k"/>
<path d="M417.4,330.0 L416.7,337.4 L417.4,346.7 L418.7,356.1 L422.0,360.7 L430.0,362.1 L440.7,361.4 L448.7,359.4 L452.7,356.1 L453.4,353.4 L452.7,340.0 L452.1,330.7Z" class="w"/>
<path d="M417.4,330.0 C417.3,331.3 416.7,334.6 416.7,337.4 C416.7,340.2 417.0,343.6 417.4,346.7 C417.7,349.8 417.9,353.7 418.7,356.1 C419.5,358.4 420.1,359.7 422.0,360.7 C423.9,361.7 426.9,362.0 430.0,362.1 C433.2,362.2 437.6,361.9 440.7,361.4 C443.8,361.0 446.7,360.3 448.7,359.4 C450.7,358.5 452.1,356.6 452.7,356.1" class="o"/>
<path d="M452.1,330.7 C452.2,332.3 452.5,336.3 452.7,340.0 C453.0,343.8 453.4,350.7 453.4,353.4 C453.4,356.1 452.9,355.6 452.7,356.1" class="o"/>
<ellipse cx="434.7" cy="329.4" rx="17.5" ry="6.0" class="ow" transform="rotate(-1 434.7 329.4)"/>
<path d="M417.4,330.0 C418.4,330.7 420.4,333.1 423.4,334.2 C426.4,335.2 431.4,336.2 435.4,336.3 C439.4,336.4 444.6,335.9 447.4,335.0 C450.2,334.0 451.3,331.4 452.1,330.7" class="o"/>
<path d="M417.5,331.1 C418.5,331.8 420.4,334.1 423.4,335.1 C426.4,336.1 431.4,337.1 435.4,337.2 C439.4,337.4 444.6,336.8 447.4,335.9 C450.2,335.0 451.4,332.7 452.2,332.0" class="o"/>
<path d="M418.0,338.7 C420.0,338.9 426.0,339.9 430.0,340.0 C434.1,340.2 439.8,339.8 442.1,339.4 C444.3,338.9 443.2,337.7 443.4,337.4" class="o"/>
<path d="M418.7,346.1 C420.6,346.2 425.9,347.0 430.0,347.0 C434.2,347.0 441.2,346.2 443.4,346.1" class="o"/>
<path d="M419.4,352.7 C421.1,353.0 426.0,354.0 430.0,354.1 C434.1,354.1 441.2,353.3 443.4,353.1" class="o"/>
<path d="M420.0,357.4 C421.7,357.6 426.2,358.7 430.0,358.7 C433.9,358.8 441.2,357.8 443.4,357.7" class="t"/>
<path d="M421.8,337.4 L422.7,359.0" class="o"/>
<path d="M443.4,337.4 L444.1,357.7" class="o"/>
<ellipse cx="448.1" cy="335.4" rx="1.3" ry="1.6" class="o"/>
<ellipse cx="448.3" cy="342.7" rx="1.6" ry="2.7" class="o"/>
<path d="M454.7,326.7 C454.9,328.9 455.4,335.6 455.4,340.0 C455.4,344.5 454.9,351.2 454.7,353.4" class="t"/>
<path d="M419.4,328.3 L421.0,326.2" class="t"/>
<path d="M403.3,326.7 C404.5,327.6 407.7,330.6 410.0,332.0 C412.4,333.5 416.1,334.8 417.4,335.4" class="o"/>
<path d="M402.0,332.0 C403.1,333.2 406.2,337.2 408.7,338.7 C411.1,340.3 415.4,340.9 416.7,341.4" class="o"/>
<path d="M402.7,338.7 C403.7,339.8 406.2,343.8 408.7,345.4 C411.1,346.9 415.9,347.6 417.4,348.1" class="o"/>
<path d="M406.0,346.7 C406.7,347.6 408.0,350.5 410.0,352.1 C412.0,353.6 416.7,355.4 418.0,356.1" class="o"/>
<path d="M404.7,350.7 C405.1,351.2 406.2,352.7 407.4,353.4 C408.5,354.1 409.6,354.0 411.4,354.7 C413.1,355.4 416.9,357.2 418.0,357.7" class="o"/>
<path d="M394.0,328.0 C394.7,328.9 396.5,331.4 398.0,333.4 C399.6,335.4 402.0,337.8 403.3,340.0 C404.7,342.3 405.6,345.6 406.0,346.7" class="o"/>
<path d="M390.0,324.0 L394.0,328.0" class="o"/>
<path d="M392.0,328.7 C392.7,329.7 395.9,333.3 396.0,334.7 C396.1,336.2 393.7,336.0 392.7,337.4 C391.7,338.7 390.4,341.8 390.0,342.7" class="o"/>
<path d="M410.0,328.3 L416.7,329.1 L417.4,331.0 L411.4,330.2Z" class="k"/>
<path d="M472.8,300.0 C472.3,302.2 470.7,308.9 470.1,313.3 C469.5,317.8 469.4,322.2 469.4,326.7 C469.4,331.1 469.8,337.6 470.1,340.0 C470.4,342.5 471.2,341.2 471.4,341.4" class="o"/>
<path d="M475.4,302.7 C475.0,304.7 473.3,308.6 472.8,314.7 C472.2,320.7 472.2,334.9 472.1,339.0" class="o"/>
<path d="M470.1,341.4 L482.1,344.1 L494.1,346.1 L496.8,344.1 L498.1,333.4 L500.0,320.0" class="o"/>
<path d="M471.4,340.0 L483.4,342.5 L495.5,344.1" class="o"/>
<path d="M495.5,344.1 L496.8,313.3 L498.1,308.0" class="o"/>
<path d="M478.1,302.7 L496.8,312.7" class="o"/>
<path d="M477.4,341.7 L477.4,336.7 L478.9,335.4 L480.8,336.7 L480.8,342.2" class="o"/>
<path d="M215.0,242.2 L207.5,244.3 L205.9,247.0 L210.4,246.8 L219.0,249.2 L226.3,244.6" class="o"/>
<path d="M213.2,241.4 L219.0,243.3 L224.6,245.7" class="t"/>
<path d="M205.9,247.0 C205.3,247.8 203.3,250.0 202.5,251.9 C201.7,253.8 201.3,256.3 201.0,258.7 C200.7,261.1 200.4,264.7 200.5,266.5 C200.7,268.2 201.8,268.6 202.1,269.0" class="o"/>
<path d="M210.4,247.0 C211.1,248.0 213.3,251.4 214.1,252.9 C214.9,254.4 215.1,255.5 215.3,256.0" class="t"/>
<ellipse cx="208.3" cy="260.6" rx="2.9" ry="4.5" class="o" transform="rotate(25 208.3 260.6)"/>
<ellipse cx="208.3" cy="260.6" rx="1.9" ry="3.2" class="o" transform="rotate(25 208.3 260.6)"/>
<ellipse cx="208.3" cy="260.8" rx="0.9" ry="1.5" class="k" transform="rotate(25 208.3 260.8)"/>
<path d="M203.4,253.8 C203.9,253.6 204.7,252.4 205.9,252.4 C207.0,252.4 209.1,253.1 210.4,253.8 C211.8,254.6 213.5,256.3 214.1,256.7" class="t"/>
<path d="M225.8,245.1 C226.3,245.7 228.4,247.0 229.2,248.5 C229.9,250.0 230.2,252.1 230.1,253.8 C230.1,255.5 229.7,256.7 228.7,258.7 C227.6,260.6 225.8,263.5 223.8,265.5 C221.9,267.4 219.5,269.0 217.0,270.3 C214.6,271.7 211.4,273.0 209.3,273.7 C207.2,274.5 205.2,274.8 204.4,275.0" class="o"/>
<path d="M222.4,251.4 C222.7,252.0 224.1,253.5 224.3,254.8 C224.6,256.1 224.4,257.7 223.8,259.2 C223.3,260.6 222.4,262.0 220.9,263.5 C219.5,265.1 217.2,266.9 215.1,268.4 C213.0,269.9 210.6,271.2 208.3,272.3 C206.0,273.3 202.6,274.3 201.5,274.7" class="o"/>
<path d="M218.5,250.0 C217.8,250.9 216.1,253.0 214.1,255.8 C212.1,258.5 208.8,263.5 206.4,266.5 C203.9,269.4 200.7,272.1 199.6,273.3" fill="none" stroke="#111" stroke-width="1.8"/>
<path d="M240.8,255.3 L243.3,253.3 L254.9,257.7 L253.0,260.6 L242.3,258.7 L239.9,257.2Z" class="o"/>
<path d="M265.0,261.6 L239.4,270.8 L223.8,275.0" class="t"/>
<path d="M286.7,342.2 C287.8,342.5 291.1,343.7 293.3,344.3 C295.6,345.0 298.9,345.8 300.0,346.1" class="o"/>
<path d="M428.6,268.1 C429.6,267.1 432.2,264.2 434.4,262.0 C436.7,259.9 439.3,257.4 442.2,255.2 C445.1,253.1 448.7,250.7 451.9,248.9 C455.1,247.2 458.7,245.6 461.6,244.6 C464.5,243.5 466.8,243.1 469.4,242.6 C472.0,242.2 474.9,241.9 477.1,241.9 C479.4,241.9 482.0,242.5 483.0,242.6" class="o"/>
<path d="M465.0,250.4 L472.3,247.3 L487.3,252.5 L483.0,255.4 L465.5,251.6Z" class="o"/>
<path d="M443.2,275.6 C444.1,274.5 446.4,271.3 449.0,268.8 C451.6,266.4 455.6,263.3 458.7,261.1 C461.8,258.9 465.0,256.9 467.4,255.7 C469.9,254.5 472.3,254.1 473.3,253.8" class="o"/>
<path d="M449.5,280.0 L458.7,270.8 L466.5,266.4 L467.9,267.9 L469.4,271.7 L472.3,270.8 L473.3,263.0 L473.3,254.3" class="o"/>
<path d="M453.8,284.4 L465.5,274.7 L473.3,272.7" class="o"/>
<path d="M454.8,282.9 L465.3,274.5" stroke="#111" stroke-width="1.6" fill="none"/>
<ellipse cx="438.0" cy="268.8" rx="0.7" ry="0.7" class="k"/>
<path d="M291.3,182.4 L293.3,180.4 L324.1,167.0 L349.4,173.7 L354.8,175.7 L357.4,178.3 L358.2,181.8" class="o"/>
<path d="M291.3,182.4 L290.7,197.0 L292.8,200.0" class="o"/>
<path d="M293.3,180.4 L296.0,185.0 L298.0,191.7 L300.0,196.5" class="o"/>
<path d="M291.7,183.4 L294.7,191.7 L298.7,198.4" class="t"/>
<ellipse cx="314.7" cy="185.2" rx="17.4" ry="7.1" class="ow" transform="rotate(-2 314.7 185.2)"/>
<path d="M297.6,186.4 C298.5,187.1 300.1,189.9 302.7,191.0 C305.3,192.2 309.8,193.3 313.4,193.4 C316.9,193.6 321.0,192.9 324.1,191.8 C327.1,190.8 330.3,187.9 331.5,187.2" class="o"/>
<path d="M298.7,190.4 C300.0,191.2 303.4,194.3 306.7,195.2 C310.0,196.0 315.4,195.7 318.7,195.3 C322.1,194.9 324.4,193.6 326.7,192.5 C329.1,191.4 331.8,189.2 332.9,188.5" class="o"/>
<path d="M313.4,176.5 L320.0,174.1" class="o"/>
<path d="M313.6,177.0 L320.3,174.6" class="o"/>
<path d="M336.1,175.0 L341.4,173.3 L346.1,175.0 L340.7,177.0Z" class="o"/>
<ellipse cx="344.1" cy="178.3" rx="0.4" ry="0.4" class="k"/>
<ellipse cx="346.1" cy="179.4" rx="0.4" ry="0.4" class="k"/>
<path d="M300.0,197.0 C302.0,196.5 306.5,193.7 312.0,193.8 C317.6,193.9 328.9,196.9 333.4,197.7 C337.8,198.5 337.3,198.0 338.7,198.4 C340.2,198.8 341.3,199.2 342.2,200.1 C343.1,201.0 344.0,203.3 344.3,204.0" class="o"/>
<path d="M320.0,203.2 L338.7,198.4" class="o"/>
<path d="M320.0,203.2 L320.0,215.7 L324.1,218.4" class="o"/>
<path d="M320.0,203.2 L304.0,200.1 L300.0,197.0" class="o"/>
<path d="M342.2,200.1 C342.7,200.9 344.4,202.4 345.4,205.0 C346.4,207.7 347.4,212.2 348.1,215.7 C348.8,219.3 349.1,222.4 349.4,226.4 C349.8,230.4 349.8,235.8 350.1,239.8 C350.4,243.8 351.0,247.9 351.4,250.4 C351.9,253.0 352.6,254.4 352.9,255.2" class="o"/>
<path d="M326.7,204.0 L327.4,216.0" class="t"/>
<path d="M322.7,216.5 L333.4,211.7 L345.4,207.7" class="o"/>
<path d="M324.1,218.4 L333.4,215.2 L346.7,211.2" class="o"/>
<path d="M324.1,218.4 L326.7,225.1 L327.5,227.7 L331.4,223.7 L333.4,218.4" class="o"/>
<path d="M322.7,221.1 C322.9,222.2 323.5,224.6 324.1,227.7 C324.6,230.9 325.6,235.2 326.1,239.8 C326.5,244.3 326.6,252.7 326.7,255.2" class="o"/>
<path d="M331.4,223.7 C331.5,226.4 331.7,234.5 332.1,239.8 C332.4,245.0 333.2,252.7 333.4,255.2" class="o"/>
<path d="M280.0,206.4 C282.2,205.7 288.9,203.2 293.3,202.4 C297.8,201.6 302.7,201.5 306.7,201.7 C310.7,201.9 315.2,202.9 317.4,203.7 C319.5,204.5 319.1,204.4 319.5,206.4 C320.0,208.4 320.0,211.5 320.0,215.7 C320.0,220.0 320.0,228.4 319.5,231.7 C319.1,235.1 320.0,234.7 317.4,235.8 C314.8,236.8 308.9,237.2 304.0,237.9 C299.1,238.6 292.0,239.0 288.0,240.0 C284.0,241.0 281.3,243.4 280.0,244.0" class="o"/>
<path d="M304.0,239.8 L304.7,255.2" class="o"/>
<path d="M306.7,239.2 L307.4,255.2" class="o"/>
<ellipse cx="315.8" cy="243.1" rx="1.2" ry="1.6" class="o"/>
<ellipse cx="310.4" cy="249.4" rx="1.1" ry="1.3" class="k"/>
<ellipse cx="320.7" cy="251.1" rx="1.1" ry="1.3" class="k"/>
<ellipse cx="298.7" cy="204.1" rx="0.5" ry="0.5" class="k"/>
<path d="M371.5,260.8 C372.3,260.6 374.9,260.3 376.8,259.4 C378.7,258.5 381.2,256.9 382.6,255.5 C384.1,254.0 385.5,252.6 385.5,250.6 C385.5,248.7 383.3,246.1 382.6,243.8 C381.9,241.6 381.2,239.5 381.2,237.0 C381.1,234.6 381.4,231.5 382.1,229.3 C382.9,227.0 384.0,225.2 385.5,223.4 C387.1,221.7 389.1,219.6 391.4,218.6 C393.6,217.5 397.8,217.4 399.1,217.1" class="o"/>
<path d="M399.1,217.1 C400.4,217.5 404.5,218.2 406.9,219.6 C409.3,220.9 411.6,223.1 413.7,225.4 C415.8,227.7 418.0,230.4 419.5,233.2 C421.1,235.9 422.0,239.0 422.9,241.9 C423.8,244.8 424.1,247.7 424.9,250.6 C425.6,253.5 426.4,256.9 427.3,259.4 C428.1,261.9 429.5,264.6 430.0,265.7" fill="none" stroke="#111" stroke-width="2.4" stroke-linecap="round"/>
<path d="M384.6,250.6 C384.4,249.5 383.8,246.3 383.6,243.8 C383.4,241.4 383.3,238.7 383.6,236.1 C383.9,233.5 384.6,230.5 385.5,228.3 C386.5,226.1 387.8,224.3 389.4,223.0 C391.0,221.6 393.1,220.6 395.2,220.0 C397.3,219.5 399.8,219.2 402.0,219.6 C404.3,220.0 406.7,221.0 408.8,222.5 C410.9,223.9 413.0,226.0 414.7,228.3 C416.4,230.6 417.9,233.5 419.0,236.1 C420.2,238.7 420.8,241.4 421.5,243.8 C422.1,246.3 422.7,249.5 422.9,250.6" class="o"/>
<path d="M388.4,247.7 C388.3,246.7 387.6,244.2 387.5,241.9 C387.4,239.6 387.4,236.6 388.0,234.1 C388.5,231.7 389.7,229.1 390.9,227.3 C392.1,225.6 393.5,224.3 395.2,223.4 C396.9,222.6 399.0,222.1 401.1,222.3 C403.2,222.4 405.9,223.3 407.9,224.4 C409.8,225.6 411.3,227.3 412.7,229.3 C414.2,231.2 415.6,233.8 416.6,236.1 C417.7,238.3 418.6,241.7 419.0,242.9" class="t"/>
<path d="M382.1,240.4 L388.4,240.4" class="t"/>
<path d="M382.1,242.4 L388.4,242.4" class="t"/>
<path d="M370.0,257.4 C371.0,257.4 374.0,257.9 375.8,257.4 C377.6,256.9 379.4,255.6 380.7,254.5 C382.0,253.4 383.1,251.3 383.6,250.6" class="o"/>
<path d="M370.0,259.6 L376.8,259.4" class="t"/>
<path d="M379.7,253.5 L384.6,256.5" class="t"/>
<path d="M377.8,255.0 L382.4,257.9" class="t"/>
<ellipse cx="405.1" cy="246.3" rx="14.4" ry="17.6" transform="rotate(-14 405.1 246.3)" fill="none" stroke="#111" stroke-width="1.7"/>
<ellipse cx="405.3" cy="246.6" rx="13.2" ry="16.3" class="t" transform="rotate(-14 405.3 246.6)"/>
<path d="M393.3,244.0 L405.1,236.6" stroke="#111" stroke-width="1.5" stroke-dasharray="2 1.3" fill="none"/>
<path d="M406.9,234.1 C407.0,234.9 406.9,237.0 407.4,239.0 C407.9,240.9 408.8,243.8 409.8,245.8 C410.9,247.7 412.5,249.4 413.7,250.6 C414.9,251.9 416.3,252.7 416.8,253.2" class="t"/>
<path d="M429.7,255.5 C429.6,253.9 429.1,249.0 429.2,245.8 C429.3,242.5 429.5,238.8 430.2,236.1 C430.8,233.3 431.8,231.1 433.1,229.3 C434.4,227.4 437.2,225.6 438.0,224.9" class="o"/>
<path d="M438.0,224.9 C438.9,224.8 441.7,223.8 443.8,224.4 C445.8,225.0 449.1,227.8 450.2,228.5" fill="none" stroke="#111" stroke-width="2.2" stroke-linecap="round"/>
<path d="M432.1,255.5 C432.1,253.9 431.6,248.9 431.7,245.8 C431.7,242.7 432.1,239.5 432.6,237.0 C433.2,234.6 434.0,232.8 435.0,231.2 C436.1,229.7 437.5,228.5 438.9,227.8 C440.4,227.1 442.2,226.9 443.8,227.1 C445.4,227.4 447.8,228.9 448.6,229.3" class="o"/>
<path d="M437.0,257.4 C436.8,255.8 436.0,251.0 436.0,247.7 C436.0,244.5 436.3,240.4 437.0,238.0 C437.6,235.6 438.8,234.4 439.9,233.2 C441.0,231.9 442.5,230.9 443.8,230.7 C445.1,230.6 446.6,231.6 447.7,232.2 C448.7,232.8 449.8,234.0 450.2,234.3" class="o"/>
<path d="M430.7,237.5 L437.0,237.5" class="t"/>
<path d="M430.7,245.8 L436.5,245.8" class="t"/>
<path d="M439.9,251.6 C439.6,250.3 438.1,246.4 438.0,243.8 C437.8,241.2 438.3,238.0 438.9,236.1 C439.6,234.2 441.4,233.0 441.8,232.4" class="t"/>
<path d="M438.0,256.5 C438.9,255.8 441.7,253.5 443.8,252.6 C445.8,251.6 449.1,251.0 450.2,250.6" class="o"/>
<path d="M450.0,228.4 C450.6,229.5 452.7,232.4 453.7,235.1 C454.7,237.7 455.9,241.9 456.1,244.4 C456.3,247.0 455.2,249.4 455.0,250.4" fill="none" stroke="#111" stroke-width="2.2" stroke-linecap="round"/>
<path d="M448.3,229.5 C448.9,230.6 450.9,233.8 451.8,236.4 C452.8,239.0 453.8,242.5 454.0,245.1 C454.1,247.6 453.1,250.6 452.9,251.8" class="t"/>
<path d="M450.2,234.3 C450.6,235.5 452.0,239.2 452.4,241.7 C452.8,244.3 453.1,247.8 452.6,249.8 C452.2,251.8 451.3,252.8 449.7,253.8 C448.1,254.7 445.0,254.9 443.0,255.4 C441.0,255.9 439.0,256.7 437.7,256.7 C436.3,256.7 435.4,255.6 435.0,255.4" class="o"/>
<path d="M403.8,204.8 L435.0,211.5" class="o"/>
<path d="M380.0,312.0 C380.9,312.4 383.8,313.1 385.5,314.0 C387.2,314.9 388.9,316.4 390.3,317.4 C391.8,318.4 393.7,319.6 394.4,320.0" class="o"/>
<path d="M395.7,317.4 L399.1,316.4 L400.0,318.4 L397.1,320.0" class="o"/>
</g>
<g>
<path d="M297.3,411.6 L297.8,419.1 Q305.8,424.6 314.3,423.8 L314.3,419.6 L319.3,419.6 L319.3,423.4 Q327.8,422.4 334.3,417.6 L334.3,410.6 Z" fill="#111"/>
<path d="M299.8,418.9 Q305.8,421.4 311.8,421.2" fill="none" stroke="#fff" stroke-width="0.9"/>
<path d="M320.8,419.9 Q327.8,418.9 332.8,415.6" fill="none" stroke="#fff" stroke-width="0.9"/>
<ellipse cx="314.80" cy="409.60" rx="20.60" ry="5.60" fill="#fff" stroke="#111" stroke-width="1.5"/>
<ellipse cx="314.80" cy="411.80" rx="20.00" ry="5.60" fill="none" stroke="#111" stroke-width="1.0"/>
<path d="M297.0,379.0 L296.7,409.0 A17.8 6.0 0 0 0 332.3,409.0 L330.2,379.0 Z" fill="#111" stroke="#111" stroke-width="1"/>
<path d="M297.8,386.8 A16.0 2.2 0 0 0 329.8,386.8" fill="none" stroke="#fff" stroke-width="2.7"/>
<path d="M297.8,392.3 A16.2 2.2 0 0 0 330.2,392.3" fill="none" stroke="#fff" stroke-width="2.7"/>
<path d="M297.7,397.8 A16.5 2.2 0 0 0 330.6,397.8" fill="none" stroke="#fff" stroke-width="2.7"/>
<path d="M297.7,403.3 A16.7 2.2 0 0 0 331.0,403.3" fill="none" stroke="#fff" stroke-width="2.7"/>
<path d="M297.6,408.8 A16.9 2.2 0 0 0 331.4,408.8" fill="none" stroke="#fff" stroke-width="2.7"/>
<path d="M303.8,383.9 L304.0,413.6" fill="none" stroke="#111" stroke-width="2.5"/>
<path d="M313.3,385.0 L314.2,414.5" fill="none" stroke="#111" stroke-width="2.5"/>
<path d="M317.6,384.8 L318.8,414.4" fill="none" stroke="#111" stroke-width="0.8"/>
<path d="M321.6,384.2 L323.1,413.9" fill="none" stroke="#111" stroke-width="1.8"/>
<path d="M327.7,382.2 L329.6,412.4" fill="none" stroke="#111" stroke-width="1.8"/>
<path d="M329.9,380.0 L332.0,410.8" fill="none" stroke="#111" stroke-width="1.2"/>
<path d="M294.2,409.6 A20.6 5.6 0 0 0 335.4,409.6" fill="none" stroke="#111" stroke-width="1.5"/>
<path d="M295.2,411.2 A20 5.6 0 0 0 334.8,411.2" fill="none" stroke="#fff" stroke-width="1.3"/>
<path d="M294.8,412.5 A20 5.6 0 0 0 335.0,412.5" fill="none" stroke="#111" stroke-width="1.2"/>
<ellipse cx="313.60" cy="379.00" rx="16.60" ry="6.00" fill="#111" stroke="#111" stroke-width="1.2"/>
<ellipse cx="313.60" cy="379.20" rx="14.60" ry="4.70" fill="none" stroke="#fff" stroke-width="0.8"/>
<ellipse cx="313.60" cy="379.50" rx="11.20" ry="3.10" fill="none" stroke="#fff" stroke-width="1.0" stroke-dasharray="5 1.5 3 1"/>
<ellipse cx="313.10" cy="378.80" rx="4.20" ry="0.90" fill="#fff"/>
</g>
<g>
<path d="M551.5,459.4 L552.0,466.9 Q560.0,472.4 568.5,471.6 L568.5,467.4 L573.5,467.4 L573.5,471.2 Q582.0,470.2 588.5,465.4 L588.5,458.4 Z" fill="#111"/>
<path d="M554.0,466.7 Q560.0,469.2 566.0,469.0" fill="none" stroke="#fff" stroke-width="0.9"/>
<path d="M575.0,467.7 Q582.0,466.7 587.0,463.4" fill="none" stroke="#fff" stroke-width="0.9"/>
<ellipse cx="569.00" cy="457.40" rx="20.60" ry="5.60" fill="#fff" stroke="#111" stroke-width="1.5"/>
<ellipse cx="569.00" cy="459.60" rx="20.00" ry="5.60" fill="none" stroke="#111" stroke-width="1.0"/>
<path d="M551.2,426.8 L550.9,456.8 A17.8 6.0 0 0 0 586.5,456.8 L584.4,426.8 Z" fill="#111" stroke="#111" stroke-width="1"/>
<path d="M552.0,434.6 A16.0 2.2 0 0 0 584.0,434.6" fill="none" stroke="#fff" stroke-width="2.7"/>
<path d="M552.0,440.1 A16.2 2.2 0 0 0 584.4,440.1" fill="none" stroke="#fff" stroke-width="2.7"/>
<path d="M551.9,445.6 A16.5 2.2 0 0 0 584.8,445.6" fill="none" stroke="#fff" stroke-width="2.7"/>
<path d="M551.9,451.1 A16.7 2.2 0 0 0 585.2,451.1" fill="none" stroke="#fff" stroke-width="2.7"/>
<path d="M551.8,456.6 A16.9 2.2 0 0 0 585.6,456.6" fill="none" stroke="#fff" stroke-width="2.7"/>
<path d="M558.0,431.7 L558.2,461.4" fill="none" stroke="#111" stroke-width="2.5"/>
<path d="M567.5,432.8 L568.4,462.3" fill="none" stroke="#111" stroke-width="2.5"/>
<path d="M571.8,432.6 L573.0,462.2" fill="none" stroke="#111" stroke-width="0.8"/>
<path d="M575.8,432.0 L577.3,461.7" fill="none" stroke="#111" stroke-width="1.8"/>
<path d="M581.9,430.0 L583.8,460.2" fill="none" stroke="#111" stroke-width="1.8"/>
<path d="M584.1,427.8 L586.2,458.6" fill="none" stroke="#111" stroke-width="1.2"/>
<path d="M548.4,457.4 A20.6 5.6 0 0 0 589.6,457.4" fill="none" stroke="#111" stroke-width="1.5"/>
<path d="M549.4,459.0 A20 5.6 0 0 0 589.0,459.0" fill="none" stroke="#fff" stroke-width="1.3"/>
<path d="M549.0,460.3 A20 5.6 0 0 0 589.2,460.3" fill="none" stroke="#111" stroke-width="1.2"/>
<ellipse cx="567.80" cy="426.80" rx="16.60" ry="6.00" fill="#111" stroke="#111" stroke-width="1.2"/>
<ellipse cx="567.80" cy="427.00" rx="14.60" ry="4.70" fill="none" stroke="#fff" stroke-width="0.8"/>
<ellipse cx="567.80" cy="427.30" rx="11.20" ry="3.10" fill="none" stroke="#fff" stroke-width="1.0" stroke-dasharray="5 1.5 3 1"/>
<ellipse cx="567.30" cy="426.60" rx="4.20" ry="0.90" fill="#fff"/>
</g>
<g>
<path d="M161.7,501.2 L162.2,508.7 Q170.2,514.2 178.7,513.4 L178.7,509.2 L183.7,509.2 L183.7,513.0 Q192.2,512.0 198.7,507.2 L198.7,500.2 Z" fill="#111"/>
<path d="M164.2,508.5 Q170.2,511.0 176.2,510.8" fill="none" stroke="#fff" stroke-width="0.9"/>
<path d="M185.2,509.5 Q192.2,508.5 197.2,505.2" fill="none" stroke="#fff" stroke-width="0.9"/>
<ellipse cx="179.20" cy="499.20" rx="20.60" ry="5.60" fill="#fff" stroke="#111" stroke-width="1.5"/>
<ellipse cx="179.20" cy="501.40" rx="20.00" ry="5.60" fill="none" stroke="#111" stroke-width="1.0"/>
<path d="M161.4,468.6 L161.1,498.6 A17.8 6.0 0 0 0 196.7,498.6 L194.6,468.6 Z" fill="#111" stroke="#111" stroke-width="1"/>
<path d="M162.2,476.4 A16.0 2.2 0 0 0 194.2,476.4" fill="none" stroke="#fff" stroke-width="2.7"/>
<path d="M162.2,481.9 A16.2 2.2 0 0 0 194.6,481.9" fill="none" stroke="#fff" stroke-width="2.7"/>
<path d="M162.1,487.4 A16.5 2.2 0 0 0 195.0,487.4" fill="none" stroke="#fff" stroke-width="2.7"/>
<path d="M162.1,492.9 A16.7 2.2 0 0 0 195.4,492.9" fill="none" stroke="#fff" stroke-width="2.7"/>
<path d="M162.0,498.4 A16.9 2.2 0 0 0 195.8,498.4" fill="none" stroke="#fff" stroke-width="2.7"/>
<path d="M168.0,473.4 L168.2,503.2" fill="none" stroke="#111" stroke-width="3.3"/>
<path d="M177.7,474.6 L178.6,504.1" fill="none" stroke="#111" stroke-width="2.6"/>
<path d="M182.6,474.4 L183.8,503.9" fill="none" stroke="#111" stroke-width="1.7"/>
<path d="M186.3,473.8 L187.8,503.5" fill="none" stroke="#111" stroke-width="2.0"/>
<path d="M189.5,472.9 L191.3,502.8" fill="none" stroke="#111" stroke-width="1.7"/>
<path d="M191.9,471.9 L193.8,502.1" fill="none" stroke="#111" stroke-width="1.9"/>
<path d="M193.7,470.6 L195.7,501.1" fill="none" stroke="#111" stroke-width="1.7"/>
<path d="M175.5,478.6 A16.0 2.2 0 0 0 193.3,477.2" fill="none" stroke="#111" stroke-width="0.9" stroke-dasharray="1.2 1.6"/>
<path d="M175.6,484.1 A16.2 2.2 0 0 0 193.7,482.7" fill="none" stroke="#111" stroke-width="0.9" stroke-dasharray="1.2 1.6"/>
<path d="M175.7,489.6 A16.5 2.2 0 0 0 194.0,488.2" fill="none" stroke="#111" stroke-width="0.9" stroke-dasharray="1.2 1.6"/>
<path d="M175.8,495.1 A16.7 2.2 0 0 0 194.4,493.7" fill="none" stroke="#111" stroke-width="0.9" stroke-dasharray="1.2 1.6"/>
<path d="M176.0,500.6 A16.9 2.2 0 0 0 194.8,499.2" fill="none" stroke="#111" stroke-width="0.9" stroke-dasharray="1.2 1.6"/>
<path d="M158.6,499.2 A20.6 5.6 0 0 0 199.8,499.2" fill="none" stroke="#111" stroke-width="1.5"/>
<path d="M159.6,500.8 A20 5.6 0 0 0 199.2,500.8" fill="none" stroke="#fff" stroke-width="1.3"/>
<path d="M159.2,502.1 A20 5.6 0 0 0 199.4,502.1" fill="none" stroke="#111" stroke-width="1.2"/>
<ellipse cx="178.00" cy="468.60" rx="16.60" ry="6.00" fill="#111" stroke="#111" stroke-width="1.2"/>
<ellipse cx="178.00" cy="468.80" rx="14.60" ry="4.70" fill="none" stroke="#fff" stroke-width="0.8"/>
<ellipse cx="178.00" cy="469.10" rx="11.20" ry="3.10" fill="none" stroke="#fff" stroke-width="1.0" stroke-dasharray="5 1.5 3 1"/>
<ellipse cx="177.50" cy="468.40" rx="4.20" ry="0.90" fill="#fff"/>
</g>
<g>
<path d="M414.3,548.6 L414.8,556.1 Q422.8,561.6 431.3,560.8 L431.3,556.6 L436.3,556.6 L436.3,560.4 Q444.8,559.4 451.3,554.6 L451.3,547.6 Z" fill="#111"/>
<path d="M416.8,555.9 Q422.8,558.4 428.8,558.2" fill="none" stroke="#fff" stroke-width="0.9"/>
<path d="M437.8,556.9 Q444.8,555.9 449.8,552.6" fill="none" stroke="#fff" stroke-width="0.9"/>
<ellipse cx="431.80" cy="546.60" rx="20.60" ry="5.60" fill="#fff" stroke="#111" stroke-width="1.5"/>
<ellipse cx="431.80" cy="548.80" rx="20.00" ry="5.60" fill="none" stroke="#111" stroke-width="1.0"/>
<path d="M414.0,516.0 L413.7,546.0 A17.8 6.0 0 0 0 449.3,546.0 L447.2,516.0 Z" fill="#111" stroke="#111" stroke-width="1"/>
<path d="M414.8,523.8 A16.0 2.2 0 0 0 446.8,523.8" fill="none" stroke="#fff" stroke-width="2.7"/>
<path d="M414.8,529.3 A16.2 2.2 0 0 0 447.2,529.3" fill="none" stroke="#fff" stroke-width="2.7"/>
<path d="M414.7,534.8 A16.5 2.2 0 0 0 447.6,534.8" fill="none" stroke="#fff" stroke-width="2.7"/>
<path d="M414.7,540.3 A16.7 2.2 0 0 0 448.0,540.3" fill="none" stroke="#fff" stroke-width="2.7"/>
<path d="M414.6,545.8 A16.9 2.2 0 0 0 448.4,545.8" fill="none" stroke="#fff" stroke-width="2.7"/>
<path d="M420.6,520.8 L420.8,550.6" fill="none" stroke="#111" stroke-width="3.3"/>
<path d="M430.3,522.0 L431.2,551.5" fill="none" stroke="#111" stroke-width="2.6"/>
<path d="M435.2,521.8 L436.4,551.3" fill="none" stroke="#111" stroke-width="1.7"/>
<path d="M438.9,521.2 L440.4,550.9" fill="none" stroke="#111" stroke-width="2.0"/>
<path d="M442.1,520.3 L443.9,550.2" fill="none" stroke="#111" stroke-width="1.7"/>
<path d="M444.5,519.3 L446.4,549.5" fill="none" stroke="#111" stroke-width="1.9"/>
<path d="M446.3,518.0 L448.3,548.5" fill="none" stroke="#111" stroke-width="1.7"/>
<path d="M428.1,526.0 A16.0 2.2 0 0 0 445.9,524.6" fill="none" stroke="#111" stroke-width="0.9" stroke-dasharray="1.2 1.6"/>
<path d="M428.2,531.5 A16.2 2.2 0 0 0 446.3,530.1" fill="none" stroke="#111" stroke-width="0.9" stroke-dasharray="1.2 1.6"/>
<path d="M428.3,537.0 A16.5 2.2 0 0 0 446.6,535.6" fill="none" stroke="#111" stroke-width="0.9" stroke-dasharray="1.2 1.6"/>
<path d="M428.4,542.5 A16.7 2.2 0 0 0 447.0,541.1" fill="none" stroke="#111" stroke-width="0.9" stroke-dasharray="1.2 1.6"/>
<path d="M428.6,548.0 A16.9 2.2 0 0 0 447.4,546.6" fill="none" stroke="#111" stroke-width="0.9" stroke-dasharray="1.2 1.6"/>
<path d="M411.2,546.6 A20.6 5.6 0 0 0 452.4,546.6" fill="none" stroke="#111" stroke-width="1.5"/>
<path d="M412.2,548.2 A20 5.6 0 0 0 451.8,548.2" fill="none" stroke="#fff" stroke-width="1.3"/>
<path d="M411.8,549.5 A20 5.6 0 0 0 452.0,549.5" fill="none" stroke="#111" stroke-width="1.2"/>
<ellipse cx="430.60" cy="516.00" rx="16.60" ry="6.00" fill="#111" stroke="#111" stroke-width="1.2"/>
<ellipse cx="430.60" cy="516.20" rx="14.60" ry="4.70" fill="none" stroke="#fff" stroke-width="0.8"/>
<ellipse cx="430.60" cy="516.50" rx="11.20" ry="3.10" fill="none" stroke="#fff" stroke-width="1.0" stroke-dasharray="5 1.5 3 1"/>
<ellipse cx="430.10" cy="515.80" rx="4.20" ry="0.90" fill="#fff"/>
</g>
<g>
<polygon points="430.4,146.5 434.1,143.6 437.5,141.5 440.9,139.3 443.8,138.3 446.7,138.1 450.6,138.5 453.5,139.4 455.7,140.9 459.4,142.0 462.5,143.8 464.4,146.7 466.2,150.6 467.1,158.2 466.2,163.2 463.8,168.4 460.5,171.7 457.4,173.2 451.6,175.2 443.8,179.8 437.0,181.7 432.2,181.7" fill="#111" stroke="#111" stroke-width="0.8" stroke-linejoin="round"/>
<polygon points="434.6,147.3 439.2,145.3 440.1,147.5 435.9,149.4" fill="#fff" stroke="#fff" stroke-width="0.75" stroke-linejoin="round"/>
<polygon points="441.1,144.6 445.8,142.4 447.7,145.3 443.1,147.3" fill="#fff" stroke="#fff" stroke-width="0.75" stroke-linejoin="round"/>
<polygon points="447.3,142.0 450.4,141.3 452.8,144.2 449.2,145.0" fill="#fff" stroke="#fff" stroke-width="0.75" stroke-linejoin="round"/>
<polygon points="438.5,151.6 444.3,149.2 446.6,154.5 441.1,156.7" fill="#fff" stroke="#fff" stroke-width="0.75" stroke-linejoin="round"/>
<polygon points="446.3,148.4 451.4,146.3 453.5,151.8 448.7,153.6" fill="#fff" stroke="#fff" stroke-width="0.75" stroke-linejoin="round"/>
<polygon points="453.3,145.8 456.5,144.6 458.6,150.2 455.3,151.4" fill="#fff" stroke="#fff" stroke-width="0.75" stroke-linejoin="round"/>
<polygon points="443.3,159.6 450.6,156.7 451.4,163.0 444.3,165.7" fill="#fff" stroke="#fff" stroke-width="0.75" stroke-linejoin="round"/>
<polygon points="452.6,156.0 457.2,154.3 457.6,160.6 453.2,162.5" fill="#fff" stroke="#fff" stroke-width="0.75" stroke-linejoin="round"/>
<polygon points="458.7,153.6 460.5,152.9 460.9,158.9 459.2,159.7" fill="#fff" stroke="#fff" stroke-width="0.75" stroke-linejoin="round"/>
<polygon points="445.3,167.1 451.2,164.7 451.2,169.0 445.8,171.6" fill="#fff" stroke="#fff" stroke-width="0.75" stroke-linejoin="round"/>
<polygon points="453.2,164.0 457.2,162.3 457.0,166.4 453.3,168.2" fill="#fff" stroke="#fff" stroke-width="0.75" stroke-linejoin="round"/>
<polygon points="458.7,161.8 460.5,161.1 460.1,165.0 458.6,165.7" fill="#fff" stroke="#fff" stroke-width="0.75" stroke-linejoin="round"/>
<polygon points="446.3,173.4 450.6,171.5 449.9,173.7 446.7,175.2" fill="#fff" stroke="#fff" stroke-width="0.75" stroke-linejoin="round"/>
<polygon points="453.1,170.1 456.5,168.7 455.7,170.8 453.1,171.9" fill="#fff" stroke="#fff" stroke-width="0.75" stroke-linejoin="round"/>
<polygon points="461.1,144.6 462.3,144.6 464.4,150.9 464.8,158.2 463.8,163.0 462.7,163.5 463.6,158.2 463.3,150.9" fill="#fff" stroke="#fff" stroke-width="0.75" stroke-linejoin="round"/>
<polygon points="453.5,140.5 455.5,141.5 457.4,142.0 456.5,140.9" fill="#fff" stroke="#fff" stroke-width="0.75" stroke-linejoin="round"/>
<ellipse cx="430.44" cy="163.98" rx="12.90" ry="17.70" fill="#fff" stroke="#111" stroke-width="2.2" transform="rotate(-5 430.44 163.98)"/>
<ellipse cx="430.64" cy="164.18" rx="9.40" ry="13.40" fill="none" stroke="#111" stroke-width="1.6" transform="rotate(-5 430.64 164.18)"/>
<ellipse cx="430.14" cy="164.28" rx="6.40" ry="9.00" fill="none" stroke="#111" stroke-width="1.8" stroke-dasharray="6 2.2 9 2" transform="rotate(-5 430.14 164.28)"/>
<ellipse cx="429.94" cy="164.48" rx="3.90" ry="5.30" fill="#fff" stroke="#111" stroke-width="1.9" transform="rotate(-5 429.94 164.48)"/>
<ellipse cx="429.94" cy="164.58" rx="1.50" ry="2.00" fill="#111" transform="rotate(-5 429.94 164.58)"/>
<path d="M421.9,172.0 L426.4,176.5 M431.4,175.0 L435.4,173.5 M427.4,153.5 L429.4,156.0" fill="none" stroke="#111" stroke-width="1.2"/>
</g>
<g>
<polygon points="515.4,165.5 519.1,162.6 522.5,160.5 525.9,158.3 528.8,157.3 531.7,157.1 535.6,157.5 538.5,158.4 540.7,159.9 544.4,161.0 547.5,162.8 549.4,165.7 551.2,169.6 552.1,177.2 551.2,182.2 548.8,187.4 545.5,190.7 542.4,192.2 536.6,194.2 528.8,198.8 522.0,200.7 517.2,200.7" fill="#111" stroke="#111" stroke-width="0.8" stroke-linejoin="round"/>
<polygon points="519.6,166.3 524.2,164.3 525.1,166.5 520.9,168.4" fill="#fff" stroke="#fff" stroke-width="0.75" stroke-linejoin="round"/>
<polygon points="526.1,163.6 530.8,161.4 532.7,164.3 528.1,166.3" fill="#fff" stroke="#fff" stroke-width="0.75" stroke-linejoin="round"/>
<polygon points="532.3,161.0 535.4,160.3 537.8,163.2 534.2,164.0" fill="#fff" stroke="#fff" stroke-width="0.75" stroke-linejoin="round"/>
<polygon points="523.5,170.6 529.3,168.2 531.6,173.5 526.1,175.7" fill="#fff" stroke="#fff" stroke-width="0.75" stroke-linejoin="round"/>
<polygon points="531.3,167.4 536.4,165.3 538.5,170.8 533.7,172.6" fill="#fff" stroke="#fff" stroke-width="0.75" stroke-linejoin="round"/>
<polygon points="538.3,164.8 541.5,163.6 543.6,169.2 540.3,170.4" fill="#fff" stroke="#fff" stroke-width="0.75" stroke-linejoin="round"/>
<polygon points="528.3,178.6 535.6,175.7 536.4,182.0 529.3,184.7" fill="#fff" stroke="#fff" stroke-width="0.75" stroke-linejoin="round"/>
<polygon points="537.6,175.0 542.2,173.3 542.6,179.6 538.2,181.5" fill="#fff" stroke="#fff" stroke-width="0.75" stroke-linejoin="round"/>
<polygon points="543.7,172.6 545.5,171.9 545.9,177.9 544.2,178.7" fill="#fff" stroke="#fff" stroke-width="0.75" stroke-linejoin="round"/>
<polygon points="530.3,186.1 536.2,183.7 536.2,188.0 530.8,190.6" fill="#fff" stroke="#fff" stroke-width="0.75" stroke-linejoin="round"/>
<polygon points="538.2,183.0 542.2,181.3 542.0,185.4 538.3,187.2" fill="#fff" stroke="#fff" stroke-width="0.75" stroke-linejoin="round"/>
<polygon points="543.7,180.8 545.5,180.1 545.1,184.0 543.6,184.7" fill="#fff" stroke="#fff" stroke-width="0.75" stroke-linejoin="round"/>
<polygon points="531.3,192.4 535.6,190.5 534.9,192.7 531.7,194.2" fill="#fff" stroke="#fff" stroke-width="0.75" stroke-linejoin="round"/>
<polygon points="538.1,189.1 541.5,187.7 540.7,189.8 538.1,190.9" fill="#fff" stroke="#fff" stroke-width="0.75" stroke-linejoin="round"/>
<polygon points="546.1,163.6 547.3,163.6 549.4,169.9 549.8,177.2 548.8,182.0 547.7,182.5 548.6,177.2 548.3,169.9" fill="#fff" stroke="#fff" stroke-width="0.75" stroke-linejoin="round"/>
<polygon points="538.5,159.5 540.5,160.5 542.4,161.0 541.5,159.9" fill="#fff" stroke="#fff" stroke-width="0.75" stroke-linejoin="round"/>
<ellipse cx="515.44" cy="182.98" rx="12.90" ry="17.70" fill="#fff" stroke="#111" stroke-width="2.2" transform="rotate(-5 515.44 182.98)"/>
<ellipse cx="515.64" cy="183.18" rx="9.40" ry="13.40" fill="none" stroke="#111" stroke-width="1.6" transform="rotate(-5 515.64 183.18)"/>
<ellipse cx="515.14" cy="183.28" rx="6.40" ry="9.00" fill="none" stroke="#111" stroke-width="1.8" stroke-dasharray="6 2.2 9 2" transform="rotate(-5 515.14 183.28)"/>
<ellipse cx="514.94" cy="183.48" rx="3.90" ry="5.30" fill="#fff" stroke="#111" stroke-width="1.9" transform="rotate(-5 514.94 183.48)"/>
<ellipse cx="514.94" cy="183.58" rx="1.50" ry="2.00" fill="#111" transform="rotate(-5 514.94 183.58)"/>
<path d="M506.9,191.0 L511.4,195.5 M516.4,194.0 L520.4,192.5 M512.4,172.5 L514.4,175.0" fill="none" stroke="#111" stroke-width="1.2"/>
</g>
<g>
<polygon points="177.6,342.2 180.8,339.4 183.9,337.5 189.4,335.9 195.7,336.5 201.3,340.5 205.2,346.9 206.9,354.0 205.4,362.1 201.4,366.8 194.2,370.7 187.1,373.9 183.1,374.5 180.0,359.5" fill="#111" stroke="#111" stroke-width="0.8" stroke-linejoin="round"/>
<polygon points="181.5,342.6 185.1,341.0 187.1,343.4 183.5,345.0" fill="#fff" stroke="#fff" stroke-width="0.75" stroke-linejoin="round"/>
<polygon points="187.1,339.8 191.0,338.6 194.2,341.0 189.8,342.6" fill="#fff" stroke="#fff" stroke-width="0.75" stroke-linejoin="round"/>
<polygon points="187.1,346.1 191.8,344.2 194.6,349.7 189.4,351.7" fill="#fff" stroke="#fff" stroke-width="0.75" stroke-linejoin="round"/>
<polygon points="193.0,343.4 197.3,341.8 200.5,346.9 196.1,348.9" fill="#fff" stroke="#fff" stroke-width="0.75" stroke-linejoin="round"/>
<polygon points="192.2,354.4 196.5,352.8 197.3,358.4 193.0,359.9" fill="#fff" stroke="#fff" stroke-width="0.75" stroke-linejoin="round"/>
<polygon points="197.7,352.4 203.6,350.1 204.0,355.6 198.5,358.0" fill="#fff" stroke="#fff" stroke-width="0.75" stroke-linejoin="round"/>
<polygon points="193.0,361.9 196.9,360.3 196.9,365.1 193.4,366.6" fill="#fff" stroke="#fff" stroke-width="0.75" stroke-linejoin="round"/>
<polygon points="198.5,359.9 204.0,357.6 203.2,361.9 198.9,364.3" fill="#fff" stroke="#fff" stroke-width="0.75" stroke-linejoin="round"/>
<polygon points="189.2,356.0 191.0,355.2 191.4,360.3 189.8,361.0" fill="#fff" stroke="#fff" stroke-width="0.75" stroke-linejoin="round"/>
<polygon points="189.8,362.7 191.4,362.1 191.4,366.6 190.2,367.2" fill="#fff" stroke="#fff" stroke-width="0.75" stroke-linejoin="round"/>
<polygon points="194.2,368.2 197.3,367.0 196.5,369.0 194.6,369.8" fill="#fff" stroke="#fff" stroke-width="0.75" stroke-linejoin="round"/>
<polygon points="198.9,365.9 202.4,363.9 201.3,366.6 198.9,367.8" fill="#fff" stroke="#fff" stroke-width="0.75" stroke-linejoin="round"/>
<polygon points="184.7,337.5 189.4,336.5 191.8,337.6 186.3,339.0" fill="#fff" stroke="#fff" stroke-width="0.75" stroke-linejoin="round"/>
<polygon points="157.7,349.7 159.5,348.3 162.6,347.7 163.0,345.0 169.7,343.0 176.0,341.4 180.0,342.0 183.1,346.1 185.6,351.7 187.1,359.5 186.4,367.4 184.7,374.1 181.5,375.3 176.0,377.3 170.1,376.3 168.9,374.5 160.6,371.5 160.1,369.0 157.7,367.8 157.3,359.5" fill="#fff" stroke="#111" stroke-width="1.2" stroke-linejoin="round"/>
<polygon points="163.0,345.0 169.7,343.0 176.0,341.4 180.0,342.0 182.7,345.7 181.2,347.7 176.0,348.7 173.7,346.5 166.2,348.1 163.4,347.7" fill="#111"/>
<polygon points="166.2,345.5 172.5,343.9 173.7,345.5 167.0,347.2" fill="#fff"/>
<polygon points="175.2,343.4 178.8,343.1 180.4,345.5 176.8,346.3" fill="#fff"/>
<polygon points="171.7,348.7 176.0,348.7 177.6,351.0 173.7,350.9" fill="#111"/>
<polygon points="160.1,369.0 168.9,373.1 184.7,372.2 184.7,374.1 181.5,375.3 176.0,377.3 170.1,376.3 168.9,374.5 160.6,371.5" fill="#111"/>
<polygon points="161.8,371.0 168.9,374.1 181.5,373.7 176.0,375.3 170.7,375.2" fill="#fff"/>
<path d="M176.6,349.3 A14.0 10.6 0 0 0 176.6,370.5" fill="none" stroke="#111" stroke-width="1.3"/>
<path d="M176.6,350.9 A10.8 9.0 0 0 0 176.6,368.9" fill="none" stroke="#111" stroke-width="1.1"/>
<path d="M176.6,352.7 A8.0 7.2 0 0 0 176.6,367.1" fill="none" stroke="#111" stroke-width="1.1"/>
<path d="M176.6,354.3 A5.3 5.6 0 0 0 176.6,365.5" fill="none" stroke="#111" stroke-width="1.0"/>
<path d="M179.1,350.4 Q186.1,357.9 181.6,370.9" fill="none" stroke="#111" stroke-width="1.4"/>
<path d="M176.1,353.4 Q182.1,359.9 177.6,367.9" fill="none" stroke="#111" stroke-width="1.0"/>
<ellipse cx="176.23" cy="359.14" rx="1.50" ry="2.60" fill="#111"/>
</g>
<g>
<polygon points="237.6,357.4 240.8,354.6 243.9,352.7 249.4,351.1 255.7,351.7 261.3,355.7 265.2,362.1 266.9,369.2 265.4,377.3 261.4,382.0 254.2,385.9 247.1,389.1 243.1,389.7 240.0,374.7" fill="#111" stroke="#111" stroke-width="0.8" stroke-linejoin="round"/>
<polygon points="241.5,357.8 245.1,356.2 247.1,358.6 243.5,360.2" fill="#fff" stroke="#fff" stroke-width="0.75" stroke-linejoin="round"/>
<polygon points="247.1,355.0 251.0,353.8 254.2,356.2 249.8,357.8" fill="#fff" stroke="#fff" stroke-width="0.75" stroke-linejoin="round"/>
<polygon points="247.1,361.3 251.8,359.4 254.6,364.9 249.4,366.9" fill="#fff" stroke="#fff" stroke-width="0.75" stroke-linejoin="round"/>
<polygon points="253.0,358.6 257.3,357.0 260.5,362.1 256.1,364.1" fill="#fff" stroke="#fff" stroke-width="0.75" stroke-linejoin="round"/>
<polygon points="252.2,369.6 256.5,368.0 257.3,373.6 253.0,375.1" fill="#fff" stroke="#fff" stroke-width="0.75" stroke-linejoin="round"/>
<polygon points="257.7,367.6 263.6,365.3 264.0,370.8 258.5,373.2" fill="#fff" stroke="#fff" stroke-width="0.75" stroke-linejoin="round"/>
<polygon points="253.0,377.1 256.9,375.5 256.9,380.3 253.4,381.8" fill="#fff" stroke="#fff" stroke-width="0.75" stroke-linejoin="round"/>
<polygon points="258.5,375.1 264.0,372.8 263.2,377.1 258.9,379.5" fill="#fff" stroke="#fff" stroke-width="0.75" stroke-linejoin="round"/>
<polygon points="249.2,371.2 251.0,370.4 251.4,375.5 249.8,376.2" fill="#fff" stroke="#fff" stroke-width="0.75" stroke-linejoin="round"/>
<polygon points="249.8,377.9 251.4,377.3 251.4,381.8 250.2,382.4" fill="#fff" stroke="#fff" stroke-width="0.75" stroke-linejoin="round"/>
<polygon points="254.2,383.4 257.3,382.2 256.5,384.2 254.6,385.0" fill="#fff" stroke="#fff" stroke-width="0.75" stroke-linejoin="round"/>
<polygon points="258.9,381.1 262.4,379.1 261.3,381.8 258.9,383.0" fill="#fff" stroke="#fff" stroke-width="0.75" stroke-linejoin="round"/>
<polygon points="244.7,352.7 249.4,351.7 251.8,352.8 246.3,354.2" fill="#fff" stroke="#fff" stroke-width="0.75" stroke-linejoin="round"/>
<polygon points="217.7,364.9 219.5,363.5 222.6,362.9 223.0,360.2 229.7,358.2 236.0,356.6 240.0,357.2 243.1,361.3 245.6,366.9 247.1,374.7 246.4,382.6 244.7,389.3 241.5,390.5 236.0,392.5 230.1,391.5 228.9,389.7 220.6,386.7 220.1,384.2 217.7,383.0 217.3,374.7" fill="#fff" stroke="#111" stroke-width="1.2" stroke-linejoin="round"/>
<polygon points="223.0,360.2 229.7,358.2 236.0,356.6 240.0,357.2 242.7,360.9 241.2,362.9 236.0,363.9 233.7,361.7 226.2,363.3 223.4,362.9" fill="#111"/>
<polygon points="226.2,360.7 232.5,359.1 233.7,360.7 227.0,362.4" fill="#fff"/>
<polygon points="235.2,358.6 238.8,358.3 240.4,360.7 236.8,361.5" fill="#fff"/>
<polygon points="231.7,363.9 236.0,363.9 237.6,366.2 233.7,366.1" fill="#111"/>
<polygon points="220.1,384.2 228.9,388.3 244.7,387.4 244.7,389.3 241.5,390.5 236.0,392.5 230.1,391.5 228.9,389.7 220.6,386.7" fill="#111"/>
<polygon points="221.8,386.2 228.9,389.3 241.5,388.9 236.0,390.5 230.7,390.4" fill="#fff"/>
<path d="M236.6,364.5 A14.0 10.6 0 0 0 236.6,385.7" fill="none" stroke="#111" stroke-width="1.3"/>
<path d="M236.6,366.1 A10.8 9.0 0 0 0 236.6,384.1" fill="none" stroke="#111" stroke-width="1.1"/>
<path d="M236.6,367.9 A8.0 7.2 0 0 0 236.6,382.3" fill="none" stroke="#111" stroke-width="1.1"/>
<path d="M236.6,369.5 A5.3 5.6 0 0 0 236.6,380.7" fill="none" stroke="#111" stroke-width="1.0"/>
<path d="M239.1,365.6 Q246.1,373.1 241.6,386.1" fill="none" stroke="#111" stroke-width="1.4"/>
<path d="M236.1,368.6 Q242.1,375.1 237.6,383.1" fill="none" stroke="#111" stroke-width="1.0"/>
<ellipse cx="236.23" cy="374.34" rx="1.50" ry="2.60" fill="#111"/>
</g>
<polygon points="238.1,615.2 242.5,613.0 257.8,610.3 286.2,607.2 294.9,607.2 298.8,609.0 299.9,611.6 298.0,613.6 286.2,615.3 254.7,619.4 251.2,618.6 248.6,616.4 241.4,616.4" fill="#fff" stroke="#111" stroke-width="1.6" stroke-linejoin="round"/>
<polyline points="248.6,616.4 252.3,615.0 286.2,611.4 297.1,610.3 299.5,611.4" fill="none" stroke="#111" stroke-width="1.1" stroke-linejoin="round"/>
<polygon points="261.9,611.5 279.6,609.5 280.2,610.9 262.6,612.9" fill="#fff" stroke="#1a1a1a" stroke-width="0.9" stroke-linejoin="round"/>
<polyline points="253.6,612.3 257.8,611.7" fill="none" stroke="#1a1a1a" stroke-width="0.9"/>
<polyline points="287.8,608.5 292.2,608.2" fill="none" stroke="#1a1a1a" stroke-width="0.9"/>
<polyline points="251.2,618.6 252.9,616.8 252.3,615.0" fill="none" stroke="#1a1a1a" stroke-width="0.9"/>
<polygon points="415.0,653.5 419.2,651.3 437.8,648.0 457.4,644.7 467.3,644.7 470.5,646.6 471.4,649.4 469.2,651.4 432.3,658.0 428.6,657.3 426.4,654.7 418.1,655.2" fill="#fff" stroke="#111" stroke-width="1.6" stroke-linejoin="round"/>
<polyline points="426.4,654.7 430.3,653.2 457.4,648.6 468.9,647.5 471.2,648.8" fill="none" stroke="#111" stroke-width="1.1" stroke-linejoin="round"/>
<polygon points="437.5,649.8 453.1,647.3 453.7,648.7 438.2,651.2" fill="#fff" stroke="#1a1a1a" stroke-width="0.9" stroke-linejoin="round"/>
<polyline points="430.3,650.4 434.3,649.8" fill="none" stroke="#1a1a1a" stroke-width="0.9"/>
<polyline points="459.4,645.9 464.0,645.4" fill="none" stroke="#1a1a1a" stroke-width="0.9"/>
<polyline points="428.6,657.3 430.6,655.1 430.3,653.2" fill="none" stroke="#1a1a1a" stroke-width="0.9"/>
<rect x="246.75" y="623.6" width="2.5" height="20.5" rx="1.1" fill="#c8c8c8" stroke="#3a3a3a" stroke-width="0.7"/>
<polygon points="244.9,643.9 251.1,643.9 250.6,645.5 248.0,648.2 245.4,645.5" fill="#222"/>
<rect x="288.55" y="620.7" width="2.5" height="20.7" rx="1.1" fill="#c8c8c8" stroke="#3a3a3a" stroke-width="0.7"/>
<polygon points="286.7,641.2 292.9,641.2 292.4,642.8 289.8,645.2 287.2,642.8" fill="#222"/>
<rect x="421.45" y="662.8" width="2.5" height="19.6" rx="1.1" fill="#c8c8c8" stroke="#3a3a3a" stroke-width="0.7"/>
<polygon points="419.6,682.2 425.8,682.2 425.3,683.8 422.7,686.4 420.1,683.8" fill="#222"/>
<rect x="460.55" y="660.4" width="2.5" height="20.1" rx="1.1" fill="#c8c8c8" stroke="#3a3a3a" stroke-width="0.7"/>
<polygon points="458.7,680.3 464.9,680.3 464.4,681.9 461.8,684.0 459.2,681.9" fill="#222"/>
<path d="M299.4,684.8 Q299.4,681.8 302.3,681.8 Q305.2,681.8 305.2,684.8 L308.4,741.6 L302.4,741.6 Z" class="g"/>
<path d="M300.7,683.5 Q302.3,682.7 303.9,683.5" fill="none" stroke="#666" stroke-width="0.6"/>
<path d="M301.0,743.6 L301.4,747.2 L304.2,748.6 L308.6,748.0 L310.2,745.8 L310.2,743.2 Z" fill="#fff" stroke="#333" stroke-width="1.0" stroke-linejoin="round"/>
<path d="M304.2,744.8 L304.2,748.6 M308.6,744.6 L308.6,748.0" fill="none" stroke="#333" stroke-width="0.7"/>
<ellipse cx="305.40" cy="742.40" rx="7.90" ry="2.90" fill="#fff" stroke="#333" stroke-width="1.2"/>
<path d="M302.4,738.6 L302.4,741.6 A3.0 1.1 0 0 0 308.4,741.6 L308.4,738.6" fill="#fff" stroke="#555" stroke-width="0.9"/>
<path d="M302.9,738.2 L307.9,738.2" stroke="#fff" stroke-width="1.2"/>
<path d="M556.5,741.5 Q556.5,738.5 559.4,738.5 Q562.3,738.5 562.3,741.5 L565.8,798.4 L559.8,798.4 Z" class="g"/>
<path d="M557.8,740.2 Q559.4,739.4 561.0,740.2" fill="none" stroke="#666" stroke-width="0.6"/>
<path d="M558.4,800.4 L558.8,804.0 L561.6,805.4 L566.0,804.8 L567.6,802.6 L567.6,800.0 Z" fill="#fff" stroke="#333" stroke-width="1.0" stroke-linejoin="round"/>
<path d="M561.6,801.6 L561.6,805.4 M566.0,801.4 L566.0,804.8" fill="none" stroke="#333" stroke-width="0.7"/>
<ellipse cx="562.80" cy="799.20" rx="7.90" ry="2.90" fill="#fff" stroke="#333" stroke-width="1.2"/>
<path d="M559.8,795.4 L559.8,798.4 A3.0 1.1 0 0 0 565.8,798.4 L565.8,795.4" fill="#fff" stroke="#555" stroke-width="0.9"/>
<path d="M560.2,795.0 L565.3,795.0" stroke="#fff" stroke-width="1.2"/>
<path d="M164.7,829.4 L164.9,833.6 L165.4,834.4 L165.5,843.2 Q167.3,845.2 169.0,843.2 L168.9,834.4 L169.6,833.6 L169.7,829.4 Z" fill="#fff" stroke="#333" stroke-width="1.0" stroke-linejoin="round"/>
<path d="M164.9,833.8 L169.6,833.8" stroke="#333" stroke-width="0.9"/>
<path d="M160.4,775.4 Q160.4,772.4 163.3,772.4 Q166.2,772.4 166.2,775.4 L169.9,827.4 L163.9,827.4 Z" class="g"/>
<path d="M161.7,774.1 Q163.3,773.3 164.9,774.1" fill="none" stroke="#666" stroke-width="0.6"/>
<ellipse cx="166.90" cy="828.30" rx="7.90" ry="2.90" fill="#fff" stroke="#333" stroke-width="1.2"/>
<path d="M163.9,824.4 L163.9,827.4 A3.0 1.1 0 0 0 169.9,827.4 L169.9,824.4" fill="#fff" stroke="#555" stroke-width="0.9"/>
<path d="M164.3,824.0 L169.5,824.0" stroke="#fff" stroke-width="1.2"/>
<path d="M423.3,886.4 L423.5,890.6 L424.0,891.4 L424.1,900.2 Q425.9,902.2 427.6,900.2 L427.5,891.4 L428.2,890.6 L428.3,886.4 Z" fill="#fff" stroke="#333" stroke-width="1.0" stroke-linejoin="round"/>
<path d="M423.5,890.8 L428.2,890.8" stroke="#333" stroke-width="0.9"/>
<path d="M419.4,832.1 Q419.4,829.1 422.3,829.1 Q425.2,829.1 425.2,832.1 L428.5,884.4 L422.5,884.4 Z" class="g"/>
<path d="M420.7,830.8 Q422.3,830.0 423.9,830.8" fill="none" stroke="#666" stroke-width="0.6"/>
<ellipse cx="425.50" cy="885.30" rx="7.90" ry="2.90" fill="#fff" stroke="#333" stroke-width="1.2"/>
<path d="M422.5,881.4 L422.5,884.4 A3.0 1.1 0 0 0 428.5,884.4 L428.5,881.4" fill="#fff" stroke="#555" stroke-width="0.9"/>
<path d="M423.0,881.0 L428.0,881.0" stroke="#fff" stroke-width="1.2"/>
<path d="M165.6,861.4 L167.8,860.3 L171.6,860.3 L173.1,861.6 L172.2,865.0 L170.4,866.3 L167.2,866.3 L166.0,864.6 Z" fill="#222" stroke="#111" stroke-width="0.6" stroke-linejoin="round"/>
<ellipse cx="169.50" cy="861.70" rx="2.10" ry="0.70" fill="#fff"/>
<path d="M167.6,863.4 L167.8,865.4 M170.8,863.4 L170.7,865.4" stroke="#fff" stroke-width="0.6" fill="none"/>
<path d="M425.6,914.4 L427.8,913.3 L431.6,913.3 L433.1,914.6 L432.2,918.0 L430.4,919.3 L427.2,919.3 L426.0,917.6 Z" fill="#222" stroke="#111" stroke-width="0.6" stroke-linejoin="round"/>
<ellipse cx="429.50" cy="914.70" rx="2.10" ry="0.70" fill="#fff"/>
<path d="M427.6,916.4 L427.8,918.4 M430.8,916.4 L430.7,918.4" stroke="#fff" stroke-width="0.6" fill="none"/>
<rect x="232.2" y="58.2" width="31.3" height="31.0" class="lb"/>
<text x="247.9" y="80.5" class="lt">1</text>
<rect x="242.50" y="77.10" width="3.90" height="4.8" fill="#fff"/>
<rect x="250.10" y="77.10" width="3.70" height="4.8" fill="#fff"/>
<rect x="377.6" y="141.4" width="31.3" height="31.0" class="lb"/>
<text x="393.3" y="163.7" class="lt">2</text>
<rect x="564.6" y="165.1" width="31.3" height="31.0" class="lb"/>
<text x="580.3" y="187.4" class="lt">2</text>
<rect x="120.2" y="342.0" width="31.3" height="31.0" class="lb"/>
<text x="135.9" y="364.3" class="lt">5</text>
<rect x="226.7" y="403.1" width="31.3" height="31.0" class="lb"/>
<text x="242.3" y="425.4" class="lt">5</text>
<rect x="354.5" y="381.2" width="31.3" height="31.0" class="lb"/>
<text x="370.1" y="403.5" class="lt">3</text>
<rect x="600.5" y="430.0" width="31.3" height="31.0" class="lb"/>
<text x="616.1" y="452.3" class="lt">3</text>
<rect x="167.7" y="425.4" width="31.3" height="31.0" class="lb"/>
<text x="183.3" y="447.7" class="lt">4</text>
<rect x="414.2" y="469.3" width="31.3" height="31.0" class="lb"/>
<text x="429.9" y="491.6" class="lt">4</text>
<rect x="178.3" y="597.3" width="31.3" height="31.0" class="lb"/>
<text x="194.0" y="619.6" class="lt">6</text>
<rect x="208.0" y="625.8" width="31.3" height="31.0" class="lb"/>
<text x="222.9" y="648.0" class="lt" letter-spacing="-1.5">10</text>
<rect x="212.40" y="644.65" width="4.65" height="4.8" fill="#fff"/>
<rect x="221.20" y="644.65" width="2.70" height="4.8" fill="#fff"/>
<rect x="302.0" y="617.2" width="31.3" height="31.0" class="lb"/>
<text x="316.9" y="639.5" class="lt" letter-spacing="-1.5">10</text>
<rect x="306.30" y="636.15" width="4.65" height="4.8" fill="#fff"/>
<rect x="315.10" y="636.15" width="2.70" height="4.8" fill="#fff"/>
<rect x="428.1" y="600.0" width="31.3" height="31.0" class="lb"/>
<text x="443.8" y="622.3" class="lt">6</text>
<rect x="382.9" y="661.5" width="31.3" height="31.0" class="lb"/>
<text x="397.8" y="683.8" class="lt" letter-spacing="-1.5">10</text>
<rect x="387.25" y="680.40" width="4.65" height="4.8" fill="#fff"/>
<rect x="396.05" y="680.40" width="2.70" height="4.8" fill="#fff"/>
<rect x="472.4" y="654.6" width="31.3" height="31.0" class="lb"/>
<text x="487.3" y="676.9" class="lt" letter-spacing="-1.5">10</text>
<rect x="476.75" y="673.50" width="4.65" height="4.8" fill="#fff"/>
<rect x="485.55" y="673.50" width="2.70" height="4.8" fill="#fff"/>
<rect x="262.0" y="696.5" width="31.3" height="31.0" class="lb"/>
<text x="277.6" y="718.8" class="lt">7</text>
<rect x="518.2" y="755.1" width="31.3" height="31.0" class="lb"/>
<text x="533.9" y="777.4" class="lt">7</text>
<rect x="120.0" y="785.2" width="31.3" height="31.0" class="lb"/>
<text x="135.6" y="807.5" class="lt">8</text>
<rect x="121.1" y="847.5" width="31.3" height="31.0" class="lb"/>
<text x="136.8" y="869.8" class="lt">9</text>
<rect x="377.0" y="841.8" width="31.3" height="31.0" class="lb"/>
<text x="392.6" y="864.0" class="lt">8</text>
<rect x="386.1" y="899.5" width="31.3" height="31.0" class="lb"/>
<text x="401.8" y="921.8" class="lt">9</text>
</svg>
</body></html>
